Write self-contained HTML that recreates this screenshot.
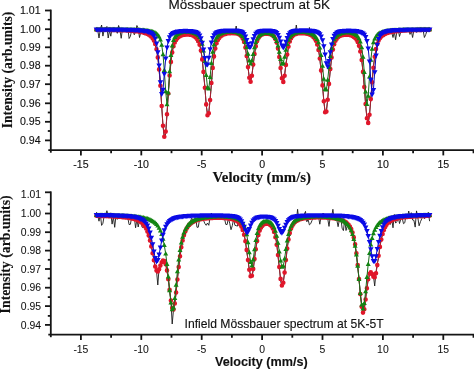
<!DOCTYPE html>
<html><head><meta charset="utf-8"><style>
html,body{margin:0;padding:0;background:#fff;overflow:hidden;}
svg{display:block;will-change:transform;}
text{font-family:"Liberation Sans",sans-serif;fill:#111;stroke:#111;stroke-width:0.12px;}
.tk{font-size:10.6px;}
.tkb{stroke-width:0.05px;font-size:10.4px;}
.ttl{font-size:13.5px;}
.ttl2{font-size:12.15px;}
.xl1{font-family:"Liberation Serif",serif;font-weight:bold;font-size:14.8px;}
.xl2{font-weight:bold;font-size:12.64px;}
.yl{font-family:"Liberation Serif",serif;font-weight:bold;font-size:13.64px;}
.yl2{font-family:"Liberation Serif",serif;font-weight:bold;font-size:13.8px;}
</style></head><body>
<svg width="474" height="369" viewBox="0 0 474 369">
<rect width="474" height="369" fill="#fff"/>
<line x1="50.8" y1="9.6" x2="50.8" y2="152.7" stroke="#151515" stroke-width="1.8"/><line x1="48.3" y1="150.2" x2="474" y2="150.2" stroke="#151515" stroke-width="1.8"/><line x1="45" y1="10.5" x2="50.8" y2="10.5" stroke="#151515" stroke-width="1.8"/><line x1="45" y1="29.2" x2="50.8" y2="29.2" stroke="#151515" stroke-width="1.8"/><line x1="45" y1="47.3" x2="50.8" y2="47.3" stroke="#151515" stroke-width="1.8"/><line x1="45" y1="65.7" x2="50.8" y2="65.7" stroke="#151515" stroke-width="1.8"/><line x1="45" y1="84.2" x2="50.8" y2="84.2" stroke="#151515" stroke-width="1.8"/><line x1="45" y1="103.3" x2="50.8" y2="103.3" stroke="#151515" stroke-width="1.8"/><line x1="45" y1="121.8" x2="50.8" y2="121.8" stroke="#151515" stroke-width="1.8"/><line x1="45" y1="140.4" x2="50.8" y2="140.4" stroke="#151515" stroke-width="1.8"/><line x1="47.8" y1="19.8" x2="50.8" y2="19.8" stroke="#151515" stroke-width="1.8"/><line x1="47.8" y1="38.4" x2="50.8" y2="38.4" stroke="#151515" stroke-width="1.8"/><line x1="47.8" y1="56.6" x2="50.8" y2="56.6" stroke="#151515" stroke-width="1.8"/><line x1="47.8" y1="75" x2="50.8" y2="75" stroke="#151515" stroke-width="1.8"/><line x1="47.8" y1="93.8" x2="50.8" y2="93.8" stroke="#151515" stroke-width="1.8"/><line x1="47.8" y1="112.5" x2="50.8" y2="112.5" stroke="#151515" stroke-width="1.8"/><line x1="47.8" y1="131" x2="50.8" y2="131" stroke="#151515" stroke-width="1.8"/><line x1="80.9" y1="150.2" x2="80.9" y2="155.4" stroke="#151515" stroke-width="1.8"/><line x1="141.3" y1="150.2" x2="141.3" y2="155.4" stroke="#151515" stroke-width="1.8"/><line x1="201.7" y1="150.2" x2="201.7" y2="155.4" stroke="#151515" stroke-width="1.8"/><line x1="262.1" y1="150.2" x2="262.1" y2="155.4" stroke="#151515" stroke-width="1.8"/><line x1="322.5" y1="150.2" x2="322.5" y2="155.4" stroke="#151515" stroke-width="1.8"/><line x1="382.9" y1="150.2" x2="382.9" y2="155.4" stroke="#151515" stroke-width="1.8"/><line x1="443.3" y1="150.2" x2="443.3" y2="155.4" stroke="#151515" stroke-width="1.8"/><line x1="111.1" y1="150.2" x2="111.1" y2="153.2" stroke="#151515" stroke-width="1.8"/><line x1="171.5" y1="150.2" x2="171.5" y2="153.2" stroke="#151515" stroke-width="1.8"/><line x1="231.9" y1="150.2" x2="231.9" y2="153.2" stroke="#151515" stroke-width="1.8"/><line x1="292.3" y1="150.2" x2="292.3" y2="153.2" stroke="#151515" stroke-width="1.8"/><line x1="352.7" y1="150.2" x2="352.7" y2="153.2" stroke="#151515" stroke-width="1.8"/><line x1="413.1" y1="150.2" x2="413.1" y2="153.2" stroke="#151515" stroke-width="1.8"/><line x1="473.5" y1="150.2" x2="473.5" y2="153.2" stroke="#151515" stroke-width="1.8"/><line x1="50.8" y1="191.4" x2="50.8" y2="337.2" stroke="#151515" stroke-width="1.8"/><line x1="48.3" y1="334.7" x2="474" y2="334.7" stroke="#151515" stroke-width="1.8"/><line x1="45" y1="192.3" x2="50.8" y2="192.3" stroke="#151515" stroke-width="1.8"/><line x1="45" y1="213.5" x2="50.8" y2="213.5" stroke="#151515" stroke-width="1.8"/><line x1="45" y1="232.2" x2="50.8" y2="232.2" stroke="#151515" stroke-width="1.8"/><line x1="45" y1="250.6" x2="50.8" y2="250.6" stroke="#151515" stroke-width="1.8"/><line x1="45" y1="269" x2="50.8" y2="269" stroke="#151515" stroke-width="1.8"/><line x1="45" y1="287.7" x2="50.8" y2="287.7" stroke="#151515" stroke-width="1.8"/><line x1="45" y1="306.1" x2="50.8" y2="306.1" stroke="#151515" stroke-width="1.8"/><line x1="45" y1="324.9" x2="50.8" y2="324.9" stroke="#151515" stroke-width="1.8"/><line x1="47.8" y1="204.4" x2="50.8" y2="204.4" stroke="#151515" stroke-width="1.8"/><line x1="47.8" y1="222.9" x2="50.8" y2="222.9" stroke="#151515" stroke-width="1.8"/><line x1="47.8" y1="241.4" x2="50.8" y2="241.4" stroke="#151515" stroke-width="1.8"/><line x1="47.8" y1="259.8" x2="50.8" y2="259.8" stroke="#151515" stroke-width="1.8"/><line x1="47.8" y1="278.4" x2="50.8" y2="278.4" stroke="#151515" stroke-width="1.8"/><line x1="47.8" y1="297.1" x2="50.8" y2="297.1" stroke="#151515" stroke-width="1.8"/><line x1="47.8" y1="315.9" x2="50.8" y2="315.9" stroke="#151515" stroke-width="1.8"/><line x1="80.9" y1="334.7" x2="80.9" y2="339.9" stroke="#151515" stroke-width="1.8"/><line x1="141.3" y1="334.7" x2="141.3" y2="339.9" stroke="#151515" stroke-width="1.8"/><line x1="201.7" y1="334.7" x2="201.7" y2="339.9" stroke="#151515" stroke-width="1.8"/><line x1="262.1" y1="334.7" x2="262.1" y2="339.9" stroke="#151515" stroke-width="1.8"/><line x1="322.5" y1="334.7" x2="322.5" y2="339.9" stroke="#151515" stroke-width="1.8"/><line x1="382.9" y1="334.7" x2="382.9" y2="339.9" stroke="#151515" stroke-width="1.8"/><line x1="443.3" y1="334.7" x2="443.3" y2="339.9" stroke="#151515" stroke-width="1.8"/><line x1="111.1" y1="334.7" x2="111.1" y2="337.7" stroke="#151515" stroke-width="1.8"/><line x1="171.5" y1="334.7" x2="171.5" y2="337.7" stroke="#151515" stroke-width="1.8"/><line x1="231.9" y1="334.7" x2="231.9" y2="337.7" stroke="#151515" stroke-width="1.8"/><line x1="292.3" y1="334.7" x2="292.3" y2="337.7" stroke="#151515" stroke-width="1.8"/><line x1="352.7" y1="334.7" x2="352.7" y2="337.7" stroke="#151515" stroke-width="1.8"/><line x1="413.1" y1="334.7" x2="413.1" y2="337.7" stroke="#151515" stroke-width="1.8"/><line x1="473.5" y1="334.7" x2="473.5" y2="337.7" stroke="#151515" stroke-width="1.8"/>
<polyline points="96.4,28.4 97.7,30 99,38 100.3,29.6 101.6,25 102.9,36.1 104.2,29.7 105.5,29.5 106.9,26.5 108.2,38 109.5,30.5 110.8,36.2 112.1,28.1 113.4,30.6 114.7,28.5 116,30 117.3,33.3 118.6,25.5 119.9,29.8 121.2,38.3 122.5,28.6 123.8,31.4 125.1,30.4 126.5,30.4 127.8,27.7 129.1,38.5 130.4,36.3 131.7,30 133,30.9 134.3,34.8 135.6,31.3 136.9,25.5 138.2,28.3 139.5,37.5 140.8,32.1 142.1,33 143.4,31.9 144.7,34.9 146.1,34.3 147.4,32.9 148.7,34.9 150,36.4 151.3,36.7 152.6,38.7 153.9,40.6 155.2,45.3 156.5,50.3 157.8,57.1 159.1,69.6 160.4,86.4 161.7,106 163,126.4 164.3,137.5 165.7,133.9 167,113.8 168.3,93.8 169.6,75.6 170.9,63.4 172.2,51.8 173.5,45.8 174.8,43 176.1,40.2 177.4,37.6 178.7,36.5 180,37 181.3,35.6 182.6,35.5 183.9,35.6 185.3,33.2 186.6,36.1 187.9,34 189.2,33.3 190.5,37 191.8,35.4 193.1,37.1 194.4,36.5 195.7,35.8 197,42.3 198.3,41 199.6,42.7 200.9,51.2 202.2,57.3 203.5,73.5 204.9,86.6 206.2,105.2 207.5,114.2 208.8,112.1 210.1,99.3 211.4,85.1 212.7,67.8 214,56.3 215.3,47.2 216.6,44.8 217.9,40.9 219.2,37.2 220.5,36.6 221.8,33.9 223.1,33.3 224.5,33.8 225.8,35.3 227.1,34.8 228.4,32.5 229.7,32.5 231,34.4 232.3,33.8 233.6,31 234.9,32.5 236.2,26 237.5,34.8 238.8,32.7 240.1,35 241.4,36.9 242.7,38.6 244.1,42.9 245.4,46.8 246.7,57.8 248,67.3 249.3,77.9 250.6,81.5 251.9,74.5 253.2,65.1 254.5,54.1 255.8,46.5 257.1,40.4 258.4,37.2 259.7,35.4 261,36 262.3,32.1 263.7,33.4 265,33.9 266.3,33.5 267.6,33.1 268.9,33.5 270.2,33 271.5,33.3 272.8,36.6 274.1,38.2 275.4,38.3 276.7,41.1 278,47 279.3,58.4 280.6,66.8 281.9,77.9 283.3,81.4 284.6,74.8 285.9,63.7 287.2,57.2 288.5,46.3 289.8,40.5 291.1,40.2 292.4,37.2 293.7,35.6 295,34.1 296.3,25 297.6,33.7 298.9,32.7 300.2,33.5 301.5,33.6 302.9,34 304.2,32 305.5,33.8 306.8,33.5 308.1,33.6 309.4,27.5 310.7,35.7 312,34.7 313.3,38.1 314.6,36.6 315.9,41.9 317.2,44.1 318.5,48.8 319.8,58.2 321.1,71.6 322.5,85.2 323.8,100.3 325.1,111.8 326.4,110.6 327.7,99.6 329,83.7 330.3,70.2 331.6,58.5 332.9,47.6 334.2,44.7 335.5,42.1 336.8,38.7 338.1,37.1 339.4,36 340.7,34.8 342.1,36.5 343.4,35.9 344.7,34.7 346,35.3 347.3,33.9 348.6,35.5 349.9,35.5 351.2,36.8 352.5,36.9 353.8,35.7 355.1,37.9 356.4,37.8 357.7,41.1 359,47.8 360.3,51.9 361.7,59.6 363,71.8 364.3,87.5 365.6,104.2 366.9,117.8 368.2,123.5 369.5,114.9 370.8,99.5 372.1,82.1 373.4,66.2 374.7,56.8 376,49.3 377.3,44.1 378.6,40 379.9,38 381.3,38.3 382.6,32.9 383.9,36.9 385.2,34.8 386.5,32.8 387.8,33.9 389.1,32.4 390.4,32.1 391.7,32.3 393,37.5 394.3,31.6 395.6,39.8 396.9,31.6 398.2,29.5 399.5,36.5 400.9,31.5 402.2,30.9 403.5,29.8 404.8,30.8 406.1,28.6 407.4,31.4 408.7,29.2 410,34.4 411.3,31 412.6,37.5 413.9,30.1 415.2,30.3 416.5,32.4 417.8,29.3 419.1,28.8 420.5,31.3 421.8,29.9 423.1,30.1 424.4,37.5 425.7,34.6 427,30.8 428.3,30.4 429.6,30.2" fill="none" stroke="#1a1a1a" stroke-width="0.9" stroke-linejoin="round"/><polyline points="96.4,29.7 97.7,29.7 99,29.7 100.3,29.7 101.6,29.7 102.9,29.7 104.2,29.8 105.5,29.8 106.9,29.8 108.2,29.8 109.5,29.8 110.8,29.9 112.1,29.9 113.4,29.9 114.7,30 116,30 117.3,30 118.6,30.1 119.9,30.1 121.2,30.2 122.5,30.2 123.8,30.3 125.1,30.3 126.5,30.4 127.8,30.5 129.1,30.6 130.4,30.6 131.7,30.7 133,30.9 134.3,31 135.6,31.1 136.9,31.3 138.2,31.5 139.5,31.7 140.8,31.9 142.1,32.2 143.4,32.6 144.7,32.9 146.1,33.4 147.4,34 148.7,34.7 150,35.6 151.3,36.8 152.6,38.3 153.9,40.6 155.2,44 156.5,49.2 157.8,57.4 159.1,69.4 160.4,85.8 161.7,106 163,125.7 164.3,136.7 165.7,131.6 167,114.2 168.3,93.5 169.6,75.5 170.9,61.9 172.2,52.4 173.5,46.3 174.8,42.4 176.1,39.9 177.4,38.2 178.7,37 180,36.2 181.3,35.5 182.6,35.1 183.9,34.8 185.3,34.6 186.6,34.5 187.9,34.5 189.2,34.6 190.5,34.8 191.8,35.1 193.1,35.6 194.4,36.4 195.7,37.4 197,38.9 198.3,41.2 199.6,44.8 200.9,50.6 202.2,59.4 203.5,71.9 204.9,87.8 206.2,104.4 207.5,115.2 208.8,113.3 210.1,100 211.4,83 212.7,67.9 214,56.4 215.3,48.5 216.6,43.3 217.9,40 219.2,38 220.5,36.5 221.8,35.6 223.1,34.8 224.5,34.3 225.8,33.9 227.1,33.5 228.4,33.3 229.7,33.2 231,33.1 232.3,33.1 233.6,33.1 234.9,33.3 236.2,33.5 237.5,33.8 238.8,34.3 240.1,35.1 241.4,36.3 242.7,38.4 244.1,41.9 245.4,47.6 246.7,56.1 248,67.1 249.3,77.8 250.6,81.8 251.9,75.8 253.2,64.6 254.5,54 255.8,46.2 257.1,41.1 258.4,38 259.7,36.2 261,35.1 262.3,34.4 263.7,34 265,33.8 266.3,33.7 267.6,33.7 268.9,33.9 270.2,34.2 271.5,34.7 272.8,35.5 274.1,36.8 275.4,39 276.7,42.6 278,48.5 279.3,57.1 280.6,68 281.9,78.3 283.3,81.9 284.6,75.8 285.9,64.9 287.2,54.5 288.5,46.6 289.8,41.4 291.1,38.2 292.4,36.3 293.7,35.1 295,34.3 296.3,33.9 297.6,33.5 298.9,33.3 300.2,33.2 301.5,33.1 302.9,33.2 304.2,33.2 305.5,33.4 306.8,33.7 308.1,34 309.4,34.4 310.7,35 312,35.8 313.3,36.9 314.6,38.4 315.9,40.7 317.2,44.4 318.5,50 319.8,58.5 321.1,70.4 322.5,85.4 323.8,101.3 325.1,112.3 326.4,111.6 327.7,99.8 329,83.9 330.3,69.1 331.6,57.6 332.9,49.6 334.2,44.2 335.5,40.8 336.8,38.7 338.1,37.3 339.4,36.3 340.7,35.7 342.1,35.2 343.4,34.9 344.7,34.7 346,34.6 347.3,34.7 348.6,34.8 349.9,35.1 351.2,35.5 352.5,36.1 353.8,36.9 355.1,38 356.4,39.6 357.7,42 359,45.8 360.3,51.5 361.7,60 363,71.9 364.3,87.1 365.6,104.1 366.9,118.3 368.2,122.9 369.5,114.8 370.8,99.1 372.1,82.2 373.4,67.8 374.7,56.8 376,49.1 377.3,43.9 378.6,40.5 379.9,38.2 381.3,36.6 382.6,35.5 383.9,34.6 385.2,33.9 386.5,33.3 387.8,32.9 389.1,32.5 390.4,32.2 391.7,31.9 393,31.6 394.3,31.4 395.6,31.3 396.9,31.1 398.2,31 399.5,30.8 400.9,30.7 402.2,30.6 403.5,30.5 404.8,30.5 406.1,30.4 407.4,30.3 408.7,30.3 410,30.2 411.3,30.2 412.6,30.1 413.9,30.1 415.2,30 416.5,30 417.8,30 419.1,29.9 420.5,29.9 421.8,29.9 423.1,29.8 424.4,29.8 425.7,29.8 427,29.8 428.3,29.8 429.6,29.7" fill="none" stroke="#a82030" stroke-width="1.0" stroke-linejoin="round"/><path d="M94.1,29.7a2.3,2.3 0 1,0 4.6,0a2.3,2.3 0 1,0 -4.6,0M95.4,29.7a2.3,2.3 0 1,0 4.6,0a2.3,2.3 0 1,0 -4.6,0M96.7,29.7a2.3,2.3 0 1,0 4.6,0a2.3,2.3 0 1,0 -4.6,0M98,29.7a2.3,2.3 0 1,0 4.6,0a2.3,2.3 0 1,0 -4.6,0M99.3,29.7a2.3,2.3 0 1,0 4.6,0a2.3,2.3 0 1,0 -4.6,0M100.6,29.7a2.3,2.3 0 1,0 4.6,0a2.3,2.3 0 1,0 -4.6,0M101.9,29.8a2.3,2.3 0 1,0 4.6,0a2.3,2.3 0 1,0 -4.6,0M103.2,29.8a2.3,2.3 0 1,0 4.6,0a2.3,2.3 0 1,0 -4.6,0M104.6,29.8a2.3,2.3 0 1,0 4.6,0a2.3,2.3 0 1,0 -4.6,0M105.9,29.8a2.3,2.3 0 1,0 4.6,0a2.3,2.3 0 1,0 -4.6,0M107.2,29.8a2.3,2.3 0 1,0 4.6,0a2.3,2.3 0 1,0 -4.6,0M108.5,29.9a2.3,2.3 0 1,0 4.6,0a2.3,2.3 0 1,0 -4.6,0M109.8,29.9a2.3,2.3 0 1,0 4.6,0a2.3,2.3 0 1,0 -4.6,0M111.1,29.9a2.3,2.3 0 1,0 4.6,0a2.3,2.3 0 1,0 -4.6,0M112.4,30a2.3,2.3 0 1,0 4.6,0a2.3,2.3 0 1,0 -4.6,0M113.7,30a2.3,2.3 0 1,0 4.6,0a2.3,2.3 0 1,0 -4.6,0M115,30a2.3,2.3 0 1,0 4.6,0a2.3,2.3 0 1,0 -4.6,0M116.3,30.1a2.3,2.3 0 1,0 4.6,0a2.3,2.3 0 1,0 -4.6,0M117.6,30.1a2.3,2.3 0 1,0 4.6,0a2.3,2.3 0 1,0 -4.6,0M118.9,30.2a2.3,2.3 0 1,0 4.6,0a2.3,2.3 0 1,0 -4.6,0M120.2,30.2a2.3,2.3 0 1,0 4.6,0a2.3,2.3 0 1,0 -4.6,0M121.5,30.3a2.3,2.3 0 1,0 4.6,0a2.3,2.3 0 1,0 -4.6,0M122.8,30.3a2.3,2.3 0 1,0 4.6,0a2.3,2.3 0 1,0 -4.6,0M124.2,30.4a2.3,2.3 0 1,0 4.6,0a2.3,2.3 0 1,0 -4.6,0M125.5,30.5a2.3,2.3 0 1,0 4.6,0a2.3,2.3 0 1,0 -4.6,0M126.8,30.6a2.3,2.3 0 1,0 4.6,0a2.3,2.3 0 1,0 -4.6,0M128.1,30.6a2.3,2.3 0 1,0 4.6,0a2.3,2.3 0 1,0 -4.6,0M129.4,30.7a2.3,2.3 0 1,0 4.6,0a2.3,2.3 0 1,0 -4.6,0M130.7,30.9a2.3,2.3 0 1,0 4.6,0a2.3,2.3 0 1,0 -4.6,0M132,31a2.3,2.3 0 1,0 4.6,0a2.3,2.3 0 1,0 -4.6,0M133.3,31.1a2.3,2.3 0 1,0 4.6,0a2.3,2.3 0 1,0 -4.6,0M134.6,31.3a2.3,2.3 0 1,0 4.6,0a2.3,2.3 0 1,0 -4.6,0M135.9,31.5a2.3,2.3 0 1,0 4.6,0a2.3,2.3 0 1,0 -4.6,0M137.2,31.7a2.3,2.3 0 1,0 4.6,0a2.3,2.3 0 1,0 -4.6,0M138.5,31.9a2.3,2.3 0 1,0 4.6,0a2.3,2.3 0 1,0 -4.6,0M139.8,32.2a2.3,2.3 0 1,0 4.6,0a2.3,2.3 0 1,0 -4.6,0M141.1,32.6a2.3,2.3 0 1,0 4.6,0a2.3,2.3 0 1,0 -4.6,0M142.4,32.9a2.3,2.3 0 1,0 4.6,0a2.3,2.3 0 1,0 -4.6,0M143.8,33.4a2.3,2.3 0 1,0 4.6,0a2.3,2.3 0 1,0 -4.6,0M145.1,34a2.3,2.3 0 1,0 4.6,0a2.3,2.3 0 1,0 -4.6,0M146.4,34.7a2.3,2.3 0 1,0 4.6,0a2.3,2.3 0 1,0 -4.6,0M147.7,35.6a2.3,2.3 0 1,0 4.6,0a2.3,2.3 0 1,0 -4.6,0M149,36.8a2.3,2.3 0 1,0 4.6,0a2.3,2.3 0 1,0 -4.6,0M150.3,38.3a2.3,2.3 0 1,0 4.6,0a2.3,2.3 0 1,0 -4.6,0M151.6,40.6a2.3,2.3 0 1,0 4.6,0a2.3,2.3 0 1,0 -4.6,0M152.9,44a2.3,2.3 0 1,0 4.6,0a2.3,2.3 0 1,0 -4.6,0M154.2,49.2a2.3,2.3 0 1,0 4.6,0a2.3,2.3 0 1,0 -4.6,0M155.5,57.4a2.3,2.3 0 1,0 4.6,0a2.3,2.3 0 1,0 -4.6,0M156.8,69.4a2.3,2.3 0 1,0 4.6,0a2.3,2.3 0 1,0 -4.6,0M158.1,85.8a2.3,2.3 0 1,0 4.6,0a2.3,2.3 0 1,0 -4.6,0M159.4,106a2.3,2.3 0 1,0 4.6,0a2.3,2.3 0 1,0 -4.6,0M160.7,125.7a2.3,2.3 0 1,0 4.6,0a2.3,2.3 0 1,0 -4.6,0M162,136.7a2.3,2.3 0 1,0 4.6,0a2.3,2.3 0 1,0 -4.6,0M163.4,131.6a2.3,2.3 0 1,0 4.6,0a2.3,2.3 0 1,0 -4.6,0M164.7,114.2a2.3,2.3 0 1,0 4.6,0a2.3,2.3 0 1,0 -4.6,0M166,93.5a2.3,2.3 0 1,0 4.6,0a2.3,2.3 0 1,0 -4.6,0M167.3,75.5a2.3,2.3 0 1,0 4.6,0a2.3,2.3 0 1,0 -4.6,0M168.6,61.9a2.3,2.3 0 1,0 4.6,0a2.3,2.3 0 1,0 -4.6,0M169.9,52.4a2.3,2.3 0 1,0 4.6,0a2.3,2.3 0 1,0 -4.6,0M171.2,46.3a2.3,2.3 0 1,0 4.6,0a2.3,2.3 0 1,0 -4.6,0M172.5,42.4a2.3,2.3 0 1,0 4.6,0a2.3,2.3 0 1,0 -4.6,0M173.8,39.9a2.3,2.3 0 1,0 4.6,0a2.3,2.3 0 1,0 -4.6,0M175.1,38.2a2.3,2.3 0 1,0 4.6,0a2.3,2.3 0 1,0 -4.6,0M176.4,37a2.3,2.3 0 1,0 4.6,0a2.3,2.3 0 1,0 -4.6,0M177.7,36.2a2.3,2.3 0 1,0 4.6,0a2.3,2.3 0 1,0 -4.6,0M179,35.5a2.3,2.3 0 1,0 4.6,0a2.3,2.3 0 1,0 -4.6,0M180.3,35.1a2.3,2.3 0 1,0 4.6,0a2.3,2.3 0 1,0 -4.6,0M181.6,34.8a2.3,2.3 0 1,0 4.6,0a2.3,2.3 0 1,0 -4.6,0M183,34.6a2.3,2.3 0 1,0 4.6,0a2.3,2.3 0 1,0 -4.6,0M184.3,34.5a2.3,2.3 0 1,0 4.6,0a2.3,2.3 0 1,0 -4.6,0M185.6,34.5a2.3,2.3 0 1,0 4.6,0a2.3,2.3 0 1,0 -4.6,0M186.9,34.6a2.3,2.3 0 1,0 4.6,0a2.3,2.3 0 1,0 -4.6,0M188.2,34.8a2.3,2.3 0 1,0 4.6,0a2.3,2.3 0 1,0 -4.6,0M189.5,35.1a2.3,2.3 0 1,0 4.6,0a2.3,2.3 0 1,0 -4.6,0M190.8,35.6a2.3,2.3 0 1,0 4.6,0a2.3,2.3 0 1,0 -4.6,0M192.1,36.4a2.3,2.3 0 1,0 4.6,0a2.3,2.3 0 1,0 -4.6,0M193.4,37.4a2.3,2.3 0 1,0 4.6,0a2.3,2.3 0 1,0 -4.6,0M194.7,38.9a2.3,2.3 0 1,0 4.6,0a2.3,2.3 0 1,0 -4.6,0M196,41.2a2.3,2.3 0 1,0 4.6,0a2.3,2.3 0 1,0 -4.6,0M197.3,44.8a2.3,2.3 0 1,0 4.6,0a2.3,2.3 0 1,0 -4.6,0M198.6,50.6a2.3,2.3 0 1,0 4.6,0a2.3,2.3 0 1,0 -4.6,0M199.9,59.4a2.3,2.3 0 1,0 4.6,0a2.3,2.3 0 1,0 -4.6,0M201.2,71.9a2.3,2.3 0 1,0 4.6,0a2.3,2.3 0 1,0 -4.6,0M202.6,87.8a2.3,2.3 0 1,0 4.6,0a2.3,2.3 0 1,0 -4.6,0M203.9,104.4a2.3,2.3 0 1,0 4.6,0a2.3,2.3 0 1,0 -4.6,0M205.2,115.2a2.3,2.3 0 1,0 4.6,0a2.3,2.3 0 1,0 -4.6,0M206.5,113.3a2.3,2.3 0 1,0 4.6,0a2.3,2.3 0 1,0 -4.6,0M207.8,100a2.3,2.3 0 1,0 4.6,0a2.3,2.3 0 1,0 -4.6,0M209.1,83a2.3,2.3 0 1,0 4.6,0a2.3,2.3 0 1,0 -4.6,0M210.4,67.9a2.3,2.3 0 1,0 4.6,0a2.3,2.3 0 1,0 -4.6,0M211.7,56.4a2.3,2.3 0 1,0 4.6,0a2.3,2.3 0 1,0 -4.6,0M213,48.5a2.3,2.3 0 1,0 4.6,0a2.3,2.3 0 1,0 -4.6,0M214.3,43.3a2.3,2.3 0 1,0 4.6,0a2.3,2.3 0 1,0 -4.6,0M215.6,40a2.3,2.3 0 1,0 4.6,0a2.3,2.3 0 1,0 -4.6,0M216.9,38a2.3,2.3 0 1,0 4.6,0a2.3,2.3 0 1,0 -4.6,0M218.2,36.5a2.3,2.3 0 1,0 4.6,0a2.3,2.3 0 1,0 -4.6,0M219.5,35.6a2.3,2.3 0 1,0 4.6,0a2.3,2.3 0 1,0 -4.6,0M220.8,34.8a2.3,2.3 0 1,0 4.6,0a2.3,2.3 0 1,0 -4.6,0M222.2,34.3a2.3,2.3 0 1,0 4.6,0a2.3,2.3 0 1,0 -4.6,0M223.5,33.9a2.3,2.3 0 1,0 4.6,0a2.3,2.3 0 1,0 -4.6,0M224.8,33.5a2.3,2.3 0 1,0 4.6,0a2.3,2.3 0 1,0 -4.6,0M226.1,33.3a2.3,2.3 0 1,0 4.6,0a2.3,2.3 0 1,0 -4.6,0M227.4,33.2a2.3,2.3 0 1,0 4.6,0a2.3,2.3 0 1,0 -4.6,0M228.7,33.1a2.3,2.3 0 1,0 4.6,0a2.3,2.3 0 1,0 -4.6,0M230,33.1a2.3,2.3 0 1,0 4.6,0a2.3,2.3 0 1,0 -4.6,0M231.3,33.1a2.3,2.3 0 1,0 4.6,0a2.3,2.3 0 1,0 -4.6,0M232.6,33.3a2.3,2.3 0 1,0 4.6,0a2.3,2.3 0 1,0 -4.6,0M233.9,33.5a2.3,2.3 0 1,0 4.6,0a2.3,2.3 0 1,0 -4.6,0M235.2,33.8a2.3,2.3 0 1,0 4.6,0a2.3,2.3 0 1,0 -4.6,0M236.5,34.3a2.3,2.3 0 1,0 4.6,0a2.3,2.3 0 1,0 -4.6,0M237.8,35.1a2.3,2.3 0 1,0 4.6,0a2.3,2.3 0 1,0 -4.6,0M239.1,36.3a2.3,2.3 0 1,0 4.6,0a2.3,2.3 0 1,0 -4.6,0M240.4,38.4a2.3,2.3 0 1,0 4.6,0a2.3,2.3 0 1,0 -4.6,0M241.8,41.9a2.3,2.3 0 1,0 4.6,0a2.3,2.3 0 1,0 -4.6,0M243.1,47.6a2.3,2.3 0 1,0 4.6,0a2.3,2.3 0 1,0 -4.6,0M244.4,56.1a2.3,2.3 0 1,0 4.6,0a2.3,2.3 0 1,0 -4.6,0M245.7,67.1a2.3,2.3 0 1,0 4.6,0a2.3,2.3 0 1,0 -4.6,0M247,77.8a2.3,2.3 0 1,0 4.6,0a2.3,2.3 0 1,0 -4.6,0M248.3,81.8a2.3,2.3 0 1,0 4.6,0a2.3,2.3 0 1,0 -4.6,0M249.6,75.8a2.3,2.3 0 1,0 4.6,0a2.3,2.3 0 1,0 -4.6,0M250.9,64.6a2.3,2.3 0 1,0 4.6,0a2.3,2.3 0 1,0 -4.6,0M252.2,54a2.3,2.3 0 1,0 4.6,0a2.3,2.3 0 1,0 -4.6,0M253.5,46.2a2.3,2.3 0 1,0 4.6,0a2.3,2.3 0 1,0 -4.6,0M254.8,41.1a2.3,2.3 0 1,0 4.6,0a2.3,2.3 0 1,0 -4.6,0M256.1,38a2.3,2.3 0 1,0 4.6,0a2.3,2.3 0 1,0 -4.6,0M257.4,36.2a2.3,2.3 0 1,0 4.6,0a2.3,2.3 0 1,0 -4.6,0M258.7,35.1a2.3,2.3 0 1,0 4.6,0a2.3,2.3 0 1,0 -4.6,0M260,34.4a2.3,2.3 0 1,0 4.6,0a2.3,2.3 0 1,0 -4.6,0M261.4,34a2.3,2.3 0 1,0 4.6,0a2.3,2.3 0 1,0 -4.6,0M262.7,33.8a2.3,2.3 0 1,0 4.6,0a2.3,2.3 0 1,0 -4.6,0M264,33.7a2.3,2.3 0 1,0 4.6,0a2.3,2.3 0 1,0 -4.6,0M265.3,33.7a2.3,2.3 0 1,0 4.6,0a2.3,2.3 0 1,0 -4.6,0M266.6,33.9a2.3,2.3 0 1,0 4.6,0a2.3,2.3 0 1,0 -4.6,0M267.9,34.2a2.3,2.3 0 1,0 4.6,0a2.3,2.3 0 1,0 -4.6,0M269.2,34.7a2.3,2.3 0 1,0 4.6,0a2.3,2.3 0 1,0 -4.6,0M270.5,35.5a2.3,2.3 0 1,0 4.6,0a2.3,2.3 0 1,0 -4.6,0M271.8,36.8a2.3,2.3 0 1,0 4.6,0a2.3,2.3 0 1,0 -4.6,0M273.1,39a2.3,2.3 0 1,0 4.6,0a2.3,2.3 0 1,0 -4.6,0M274.4,42.6a2.3,2.3 0 1,0 4.6,0a2.3,2.3 0 1,0 -4.6,0M275.7,48.5a2.3,2.3 0 1,0 4.6,0a2.3,2.3 0 1,0 -4.6,0M277,57.1a2.3,2.3 0 1,0 4.6,0a2.3,2.3 0 1,0 -4.6,0M278.3,68a2.3,2.3 0 1,0 4.6,0a2.3,2.3 0 1,0 -4.6,0M279.6,78.3a2.3,2.3 0 1,0 4.6,0a2.3,2.3 0 1,0 -4.6,0M281,81.9a2.3,2.3 0 1,0 4.6,0a2.3,2.3 0 1,0 -4.6,0M282.3,75.8a2.3,2.3 0 1,0 4.6,0a2.3,2.3 0 1,0 -4.6,0M283.6,64.9a2.3,2.3 0 1,0 4.6,0a2.3,2.3 0 1,0 -4.6,0M284.9,54.5a2.3,2.3 0 1,0 4.6,0a2.3,2.3 0 1,0 -4.6,0M286.2,46.6a2.3,2.3 0 1,0 4.6,0a2.3,2.3 0 1,0 -4.6,0M287.5,41.4a2.3,2.3 0 1,0 4.6,0a2.3,2.3 0 1,0 -4.6,0M288.8,38.2a2.3,2.3 0 1,0 4.6,0a2.3,2.3 0 1,0 -4.6,0M290.1,36.3a2.3,2.3 0 1,0 4.6,0a2.3,2.3 0 1,0 -4.6,0M291.4,35.1a2.3,2.3 0 1,0 4.6,0a2.3,2.3 0 1,0 -4.6,0M292.7,34.3a2.3,2.3 0 1,0 4.6,0a2.3,2.3 0 1,0 -4.6,0M294,33.9a2.3,2.3 0 1,0 4.6,0a2.3,2.3 0 1,0 -4.6,0M295.3,33.5a2.3,2.3 0 1,0 4.6,0a2.3,2.3 0 1,0 -4.6,0M296.6,33.3a2.3,2.3 0 1,0 4.6,0a2.3,2.3 0 1,0 -4.6,0M297.9,33.2a2.3,2.3 0 1,0 4.6,0a2.3,2.3 0 1,0 -4.6,0M299.2,33.1a2.3,2.3 0 1,0 4.6,0a2.3,2.3 0 1,0 -4.6,0M300.6,33.2a2.3,2.3 0 1,0 4.6,0a2.3,2.3 0 1,0 -4.6,0M301.9,33.2a2.3,2.3 0 1,0 4.6,0a2.3,2.3 0 1,0 -4.6,0M303.2,33.4a2.3,2.3 0 1,0 4.6,0a2.3,2.3 0 1,0 -4.6,0M304.5,33.7a2.3,2.3 0 1,0 4.6,0a2.3,2.3 0 1,0 -4.6,0M305.8,34a2.3,2.3 0 1,0 4.6,0a2.3,2.3 0 1,0 -4.6,0M307.1,34.4a2.3,2.3 0 1,0 4.6,0a2.3,2.3 0 1,0 -4.6,0M308.4,35a2.3,2.3 0 1,0 4.6,0a2.3,2.3 0 1,0 -4.6,0M309.7,35.8a2.3,2.3 0 1,0 4.6,0a2.3,2.3 0 1,0 -4.6,0M311,36.9a2.3,2.3 0 1,0 4.6,0a2.3,2.3 0 1,0 -4.6,0M312.3,38.4a2.3,2.3 0 1,0 4.6,0a2.3,2.3 0 1,0 -4.6,0M313.6,40.7a2.3,2.3 0 1,0 4.6,0a2.3,2.3 0 1,0 -4.6,0M314.9,44.4a2.3,2.3 0 1,0 4.6,0a2.3,2.3 0 1,0 -4.6,0M316.2,50a2.3,2.3 0 1,0 4.6,0a2.3,2.3 0 1,0 -4.6,0M317.5,58.5a2.3,2.3 0 1,0 4.6,0a2.3,2.3 0 1,0 -4.6,0M318.8,70.4a2.3,2.3 0 1,0 4.6,0a2.3,2.3 0 1,0 -4.6,0M320.2,85.4a2.3,2.3 0 1,0 4.6,0a2.3,2.3 0 1,0 -4.6,0M321.5,101.3a2.3,2.3 0 1,0 4.6,0a2.3,2.3 0 1,0 -4.6,0M322.8,112.3a2.3,2.3 0 1,0 4.6,0a2.3,2.3 0 1,0 -4.6,0M324.1,111.6a2.3,2.3 0 1,0 4.6,0a2.3,2.3 0 1,0 -4.6,0M325.4,99.8a2.3,2.3 0 1,0 4.6,0a2.3,2.3 0 1,0 -4.6,0M326.7,83.9a2.3,2.3 0 1,0 4.6,0a2.3,2.3 0 1,0 -4.6,0M328,69.1a2.3,2.3 0 1,0 4.6,0a2.3,2.3 0 1,0 -4.6,0M329.3,57.6a2.3,2.3 0 1,0 4.6,0a2.3,2.3 0 1,0 -4.6,0M330.6,49.6a2.3,2.3 0 1,0 4.6,0a2.3,2.3 0 1,0 -4.6,0M331.9,44.2a2.3,2.3 0 1,0 4.6,0a2.3,2.3 0 1,0 -4.6,0M333.2,40.8a2.3,2.3 0 1,0 4.6,0a2.3,2.3 0 1,0 -4.6,0M334.5,38.7a2.3,2.3 0 1,0 4.6,0a2.3,2.3 0 1,0 -4.6,0M335.8,37.3a2.3,2.3 0 1,0 4.6,0a2.3,2.3 0 1,0 -4.6,0M337.1,36.3a2.3,2.3 0 1,0 4.6,0a2.3,2.3 0 1,0 -4.6,0M338.4,35.7a2.3,2.3 0 1,0 4.6,0a2.3,2.3 0 1,0 -4.6,0M339.8,35.2a2.3,2.3 0 1,0 4.6,0a2.3,2.3 0 1,0 -4.6,0M341.1,34.9a2.3,2.3 0 1,0 4.6,0a2.3,2.3 0 1,0 -4.6,0M342.4,34.7a2.3,2.3 0 1,0 4.6,0a2.3,2.3 0 1,0 -4.6,0M343.7,34.6a2.3,2.3 0 1,0 4.6,0a2.3,2.3 0 1,0 -4.6,0M345,34.7a2.3,2.3 0 1,0 4.6,0a2.3,2.3 0 1,0 -4.6,0M346.3,34.8a2.3,2.3 0 1,0 4.6,0a2.3,2.3 0 1,0 -4.6,0M347.6,35.1a2.3,2.3 0 1,0 4.6,0a2.3,2.3 0 1,0 -4.6,0M348.9,35.5a2.3,2.3 0 1,0 4.6,0a2.3,2.3 0 1,0 -4.6,0M350.2,36.1a2.3,2.3 0 1,0 4.6,0a2.3,2.3 0 1,0 -4.6,0M351.5,36.9a2.3,2.3 0 1,0 4.6,0a2.3,2.3 0 1,0 -4.6,0M352.8,38a2.3,2.3 0 1,0 4.6,0a2.3,2.3 0 1,0 -4.6,0M354.1,39.6a2.3,2.3 0 1,0 4.6,0a2.3,2.3 0 1,0 -4.6,0M355.4,42a2.3,2.3 0 1,0 4.6,0a2.3,2.3 0 1,0 -4.6,0M356.7,45.8a2.3,2.3 0 1,0 4.6,0a2.3,2.3 0 1,0 -4.6,0M358,51.5a2.3,2.3 0 1,0 4.6,0a2.3,2.3 0 1,0 -4.6,0M359.4,60a2.3,2.3 0 1,0 4.6,0a2.3,2.3 0 1,0 -4.6,0M360.7,71.9a2.3,2.3 0 1,0 4.6,0a2.3,2.3 0 1,0 -4.6,0M362,87.1a2.3,2.3 0 1,0 4.6,0a2.3,2.3 0 1,0 -4.6,0M363.3,104.1a2.3,2.3 0 1,0 4.6,0a2.3,2.3 0 1,0 -4.6,0M364.6,118.3a2.3,2.3 0 1,0 4.6,0a2.3,2.3 0 1,0 -4.6,0M365.9,122.9a2.3,2.3 0 1,0 4.6,0a2.3,2.3 0 1,0 -4.6,0M367.2,114.8a2.3,2.3 0 1,0 4.6,0a2.3,2.3 0 1,0 -4.6,0M368.5,99.1a2.3,2.3 0 1,0 4.6,0a2.3,2.3 0 1,0 -4.6,0M369.8,82.2a2.3,2.3 0 1,0 4.6,0a2.3,2.3 0 1,0 -4.6,0M371.1,67.8a2.3,2.3 0 1,0 4.6,0a2.3,2.3 0 1,0 -4.6,0M372.4,56.8a2.3,2.3 0 1,0 4.6,0a2.3,2.3 0 1,0 -4.6,0M373.7,49.1a2.3,2.3 0 1,0 4.6,0a2.3,2.3 0 1,0 -4.6,0M375,43.9a2.3,2.3 0 1,0 4.6,0a2.3,2.3 0 1,0 -4.6,0M376.3,40.5a2.3,2.3 0 1,0 4.6,0a2.3,2.3 0 1,0 -4.6,0M377.6,38.2a2.3,2.3 0 1,0 4.6,0a2.3,2.3 0 1,0 -4.6,0M379,36.6a2.3,2.3 0 1,0 4.6,0a2.3,2.3 0 1,0 -4.6,0M380.3,35.5a2.3,2.3 0 1,0 4.6,0a2.3,2.3 0 1,0 -4.6,0M381.6,34.6a2.3,2.3 0 1,0 4.6,0a2.3,2.3 0 1,0 -4.6,0M382.9,33.9a2.3,2.3 0 1,0 4.6,0a2.3,2.3 0 1,0 -4.6,0M384.2,33.3a2.3,2.3 0 1,0 4.6,0a2.3,2.3 0 1,0 -4.6,0M385.5,32.9a2.3,2.3 0 1,0 4.6,0a2.3,2.3 0 1,0 -4.6,0M386.8,32.5a2.3,2.3 0 1,0 4.6,0a2.3,2.3 0 1,0 -4.6,0M388.1,32.2a2.3,2.3 0 1,0 4.6,0a2.3,2.3 0 1,0 -4.6,0M389.4,31.9a2.3,2.3 0 1,0 4.6,0a2.3,2.3 0 1,0 -4.6,0M390.7,31.6a2.3,2.3 0 1,0 4.6,0a2.3,2.3 0 1,0 -4.6,0M392,31.4a2.3,2.3 0 1,0 4.6,0a2.3,2.3 0 1,0 -4.6,0M393.3,31.3a2.3,2.3 0 1,0 4.6,0a2.3,2.3 0 1,0 -4.6,0M394.6,31.1a2.3,2.3 0 1,0 4.6,0a2.3,2.3 0 1,0 -4.6,0M395.9,31a2.3,2.3 0 1,0 4.6,0a2.3,2.3 0 1,0 -4.6,0M397.2,30.8a2.3,2.3 0 1,0 4.6,0a2.3,2.3 0 1,0 -4.6,0M398.6,30.7a2.3,2.3 0 1,0 4.6,0a2.3,2.3 0 1,0 -4.6,0M399.9,30.6a2.3,2.3 0 1,0 4.6,0a2.3,2.3 0 1,0 -4.6,0M401.2,30.5a2.3,2.3 0 1,0 4.6,0a2.3,2.3 0 1,0 -4.6,0M402.5,30.5a2.3,2.3 0 1,0 4.6,0a2.3,2.3 0 1,0 -4.6,0M403.8,30.4a2.3,2.3 0 1,0 4.6,0a2.3,2.3 0 1,0 -4.6,0M405.1,30.3a2.3,2.3 0 1,0 4.6,0a2.3,2.3 0 1,0 -4.6,0M406.4,30.3a2.3,2.3 0 1,0 4.6,0a2.3,2.3 0 1,0 -4.6,0M407.7,30.2a2.3,2.3 0 1,0 4.6,0a2.3,2.3 0 1,0 -4.6,0M409,30.2a2.3,2.3 0 1,0 4.6,0a2.3,2.3 0 1,0 -4.6,0M410.3,30.1a2.3,2.3 0 1,0 4.6,0a2.3,2.3 0 1,0 -4.6,0M411.6,30.1a2.3,2.3 0 1,0 4.6,0a2.3,2.3 0 1,0 -4.6,0M412.9,30a2.3,2.3 0 1,0 4.6,0a2.3,2.3 0 1,0 -4.6,0M414.2,30a2.3,2.3 0 1,0 4.6,0a2.3,2.3 0 1,0 -4.6,0M415.5,30a2.3,2.3 0 1,0 4.6,0a2.3,2.3 0 1,0 -4.6,0M416.8,29.9a2.3,2.3 0 1,0 4.6,0a2.3,2.3 0 1,0 -4.6,0M418.2,29.9a2.3,2.3 0 1,0 4.6,0a2.3,2.3 0 1,0 -4.6,0M419.5,29.9a2.3,2.3 0 1,0 4.6,0a2.3,2.3 0 1,0 -4.6,0M420.8,29.8a2.3,2.3 0 1,0 4.6,0a2.3,2.3 0 1,0 -4.6,0M422.1,29.8a2.3,2.3 0 1,0 4.6,0a2.3,2.3 0 1,0 -4.6,0M423.4,29.8a2.3,2.3 0 1,0 4.6,0a2.3,2.3 0 1,0 -4.6,0M424.7,29.8a2.3,2.3 0 1,0 4.6,0a2.3,2.3 0 1,0 -4.6,0M426,29.8a2.3,2.3 0 1,0 4.6,0a2.3,2.3 0 1,0 -4.6,0M427.3,29.7a2.3,2.3 0 1,0 4.6,0a2.3,2.3 0 1,0 -4.6,0" fill="#e0162a"/><polyline points="96.4,29.4 97.7,29.4 99,29.4 100.3,29.4 101.6,29.4 102.9,29.4 104.2,29.4 105.5,29.5 106.9,29.5 108.2,29.5 109.5,29.5 110.8,29.5 112.1,29.5 113.4,29.5 114.7,29.5 116,29.5 117.3,29.5 118.6,29.6 119.9,29.6 121.2,29.6 122.5,29.6 123.8,29.6 125.1,29.7 126.5,29.7 127.8,29.7 129.1,29.7 130.4,29.8 131.7,29.8 133,29.8 134.3,29.9 135.6,29.9 136.9,30 138.2,30 139.5,30.1 140.8,30.2 142.1,30.2 143.4,30.3 144.7,30.5 146.1,30.6 147.4,30.8 148.7,31 150,31.2 151.3,31.5 152.6,31.9 153.9,32.3 155.2,33 156.5,33.8 157.8,35.1 159.1,36.9 160.4,39.8 161.7,45 163,54.4 164.3,70.3 165.7,91.5 167,104.5 168.3,92.9 169.6,71.6 170.9,55.4 172.2,45.7 173.5,40.3 174.8,37.3 176.1,35.5 177.4,34.4 178.7,33.6 180,33 181.3,32.6 182.6,32.3 183.9,32.1 185.3,32 186.6,32 187.9,32 189.2,32.1 190.5,32.2 191.8,32.4 193.1,32.7 194.4,33.1 195.7,33.7 197,34.4 198.3,35.5 199.6,37.2 200.9,39.8 202.2,44 203.5,50.8 204.9,61.3 206.2,75.1 207.5,87.6 208.8,88.7 210.1,77.2 211.4,63.1 212.7,52.1 214,44.8 215.3,40.2 216.6,37.5 217.9,35.7 219.2,34.6 220.5,33.8 221.8,33.2 223.1,32.7 224.5,32.4 225.8,32.2 227.1,32 228.4,31.9 229.7,31.9 231,31.9 232.3,31.9 233.6,32 234.9,32.2 236.2,32.4 237.5,32.7 238.8,33.2 240.1,33.8 241.4,34.8 242.7,36.3 244.1,38.6 245.4,42.2 246.7,47.3 248,53.9 249.3,60.6 250.6,63.8 251.9,60.8 253.2,54.1 254.5,47.5 255.8,42.4 257.1,38.9 258.4,36.6 259.7,35.2 261,34.3 262.3,33.7 263.7,33.3 265,33.1 266.3,33 267.6,33.1 268.9,33.2 270.2,33.6 271.5,34.1 272.8,34.9 274.1,36.1 275.4,38.1 276.7,41.2 278,45.8 279.3,52.1 280.6,59.2 281.9,64.1 283.3,63.1 284.6,57 285.9,49.9 287.2,44.1 288.5,40 289.8,37.3 291.1,35.5 292.4,34.3 293.7,33.6 295,33 296.3,32.7 297.6,32.4 298.9,32.2 300.2,32.1 301.5,32.1 302.9,32.1 304.2,32.1 305.5,32.3 306.8,32.4 308.1,32.7 309.4,33 310.7,33.4 312,33.9 313.3,34.7 314.6,35.7 315.9,37.1 317.2,39.3 318.5,42.6 319.8,47.7 321.1,55.4 322.5,66.1 323.8,79 325.1,89.4 326.4,89.9 327.7,80.1 329,67.2 330.3,56.2 331.6,48.3 332.9,43 334.2,39.6 335.5,37.4 336.8,35.9 338.1,34.9 339.4,34.1 340.7,33.6 342.1,33.2 343.4,32.9 344.7,32.7 346,32.6 347.3,32.6 348.6,32.6 349.9,32.7 351.2,32.9 352.5,33.2 353.8,33.7 355.1,34.3 356.4,35.2 357.7,36.5 359,38.5 360.3,41.8 361.7,47.4 363,57.1 364.3,72.3 365.6,91.7 366.9,104.1 368.2,96 369.5,76.7 370.8,60 372.1,49.1 373.4,42.5 374.7,38.7 376,36.4 377.3,34.9 378.6,33.8 379.9,33 381.3,32.4 382.6,32 383.9,31.6 385.2,31.3 386.5,31.1 387.8,30.9 389.1,30.7 390.4,30.6 391.7,30.5 393,30.4 394.3,30.3 395.6,30.2 396.9,30.1 398.2,30.1 399.5,30 400.9,29.9 402.2,29.9 403.5,29.9 404.8,29.8 406.1,29.8 407.4,29.8 408.7,29.7 410,29.7 411.3,29.7 412.6,29.7 413.9,29.6 415.2,29.6 416.5,29.6 417.8,29.6 419.1,29.6 420.5,29.6 421.8,29.5 423.1,29.5 424.4,29.5 425.7,29.5 427,29.5 428.3,29.5 429.6,29.5" fill="none" stroke="#1a6a1a" stroke-width="1.0" stroke-linejoin="round"/><path d="M96.4,26.7l2.5,4.5h-5zM97.7,26.7l2.5,4.5h-5zM99,26.7l2.5,4.5h-5zM100.3,26.7l2.5,4.5h-5zM101.6,26.7l2.5,4.5h-5zM102.9,26.7l2.5,4.5h-5zM104.2,26.7l2.5,4.5h-5zM105.5,26.7l2.5,4.5h-5zM106.9,26.7l2.5,4.5h-5zM108.2,26.7l2.5,4.5h-5zM109.5,26.7l2.5,4.5h-5zM110.8,26.7l2.5,4.5h-5zM112.1,26.7l2.5,4.5h-5zM113.4,26.8l2.5,4.5h-5zM114.7,26.8l2.5,4.5h-5zM116,26.8l2.5,4.5h-5zM117.3,26.8l2.5,4.5h-5zM118.6,26.8l2.5,4.5h-5zM119.9,26.8l2.5,4.5h-5zM121.2,26.8l2.5,4.5h-5zM122.5,26.9l2.5,4.5h-5zM123.8,26.9l2.5,4.5h-5zM125.1,26.9l2.5,4.5h-5zM126.5,26.9l2.5,4.5h-5zM127.8,27l2.5,4.5h-5zM129.1,27l2.5,4.5h-5zM130.4,27l2.5,4.5h-5zM131.7,27l2.5,4.5h-5zM133,27.1l2.5,4.5h-5zM134.3,27.1l2.5,4.5h-5zM135.6,27.2l2.5,4.5h-5zM136.9,27.2l2.5,4.5h-5zM138.2,27.3l2.5,4.5h-5zM139.5,27.3l2.5,4.5h-5zM140.8,27.4l2.5,4.5h-5zM142.1,27.5l2.5,4.5h-5zM143.4,27.6l2.5,4.5h-5zM144.7,27.7l2.5,4.5h-5zM146.1,27.8l2.5,4.5h-5zM147.4,28l2.5,4.5h-5zM148.7,28.2l2.5,4.5h-5zM150,28.4l2.5,4.5h-5zM151.3,28.7l2.5,4.5h-5zM152.6,29.1l2.5,4.5h-5zM153.9,29.6l2.5,4.5h-5zM155.2,30.2l2.5,4.5h-5zM156.5,31.1l2.5,4.5h-5zM157.8,32.3l2.5,4.5h-5zM159.1,34.1l2.5,4.5h-5zM160.4,37.1l2.5,4.5h-5zM161.7,42.3l2.5,4.5h-5zM163,51.7l2.5,4.5h-5zM164.3,67.5l2.5,4.5h-5zM165.7,88.8l2.5,4.5h-5zM167,101.7l2.5,4.5h-5zM168.3,90.1l2.5,4.5h-5zM169.6,68.8l2.5,4.5h-5zM170.9,52.6l2.5,4.5h-5zM172.2,42.9l2.5,4.5h-5zM173.5,37.6l2.5,4.5h-5zM174.8,34.6l2.5,4.5h-5zM176.1,32.8l2.5,4.5h-5zM177.4,31.6l2.5,4.5h-5zM178.7,30.8l2.5,4.5h-5zM180,30.2l2.5,4.5h-5zM181.3,29.8l2.5,4.5h-5zM182.6,29.6l2.5,4.5h-5zM183.9,29.4l2.5,4.5h-5zM185.3,29.3l2.5,4.5h-5zM186.6,29.2l2.5,4.5h-5zM187.9,29.2l2.5,4.5h-5zM189.2,29.3l2.5,4.5h-5zM190.5,29.4l2.5,4.5h-5zM191.8,29.7l2.5,4.5h-5zM193.1,30l2.5,4.5h-5zM194.4,30.4l2.5,4.5h-5zM195.7,30.9l2.5,4.5h-5zM197,31.7l2.5,4.5h-5zM198.3,32.8l2.5,4.5h-5zM199.6,34.4l2.5,4.5h-5zM200.9,37l2.5,4.5h-5zM202.2,41.2l2.5,4.5h-5zM203.5,48.1l2.5,4.5h-5zM204.9,58.5l2.5,4.5h-5zM206.2,72.4l2.5,4.5h-5zM207.5,84.9l2.5,4.5h-5zM208.8,86l2.5,4.5h-5zM210.1,74.5l2.5,4.5h-5zM211.4,60.4l2.5,4.5h-5zM212.7,49.3l2.5,4.5h-5zM214,42l2.5,4.5h-5zM215.3,37.5l2.5,4.5h-5zM216.6,34.7l2.5,4.5h-5zM217.9,33l2.5,4.5h-5zM219.2,31.8l2.5,4.5h-5zM220.5,31l2.5,4.5h-5zM221.8,30.4l2.5,4.5h-5zM223.1,30l2.5,4.5h-5zM224.5,29.7l2.5,4.5h-5zM225.8,29.4l2.5,4.5h-5zM227.1,29.3l2.5,4.5h-5zM228.4,29.2l2.5,4.5h-5zM229.7,29.1l2.5,4.5h-5zM231,29.1l2.5,4.5h-5zM232.3,29.1l2.5,4.5h-5zM233.6,29.2l2.5,4.5h-5zM234.9,29.4l2.5,4.5h-5zM236.2,29.6l2.5,4.5h-5zM237.5,30l2.5,4.5h-5zM238.8,30.4l2.5,4.5h-5zM240.1,31.1l2.5,4.5h-5zM241.4,32.1l2.5,4.5h-5zM242.7,33.6l2.5,4.5h-5zM244.1,35.9l2.5,4.5h-5zM245.4,39.4l2.5,4.5h-5zM246.7,44.5l2.5,4.5h-5zM248,51.2l2.5,4.5h-5zM249.3,57.9l2.5,4.5h-5zM250.6,61l2.5,4.5h-5zM251.9,58l2.5,4.5h-5zM253.2,51.4l2.5,4.5h-5zM254.5,44.8l2.5,4.5h-5zM255.8,39.7l2.5,4.5h-5zM257.1,36.2l2.5,4.5h-5zM258.4,33.9l2.5,4.5h-5zM259.7,32.4l2.5,4.5h-5zM261,31.5l2.5,4.5h-5zM262.3,30.9l2.5,4.5h-5zM263.7,30.6l2.5,4.5h-5zM265,30.4l2.5,4.5h-5zM266.3,30.3l2.5,4.5h-5zM267.6,30.3l2.5,4.5h-5zM268.9,30.5l2.5,4.5h-5zM270.2,30.8l2.5,4.5h-5zM271.5,31.3l2.5,4.5h-5zM272.8,32.1l2.5,4.5h-5zM274.1,33.4l2.5,4.5h-5zM275.4,35.4l2.5,4.5h-5zM276.7,38.5l2.5,4.5h-5zM278,43.1l2.5,4.5h-5zM279.3,49.3l2.5,4.5h-5zM280.6,56.4l2.5,4.5h-5zM281.9,61.3l2.5,4.5h-5zM283.3,60.3l2.5,4.5h-5zM284.6,54.3l2.5,4.5h-5zM285.9,47.2l2.5,4.5h-5zM287.2,41.4l2.5,4.5h-5zM288.5,37.3l2.5,4.5h-5zM289.8,34.5l2.5,4.5h-5zM291.1,32.7l2.5,4.5h-5zM292.4,31.6l2.5,4.5h-5zM293.7,30.8l2.5,4.5h-5zM295,30.3l2.5,4.5h-5zM296.3,29.9l2.5,4.5h-5zM297.6,29.7l2.5,4.5h-5zM298.9,29.5l2.5,4.5h-5zM300.2,29.4l2.5,4.5h-5zM301.5,29.3l2.5,4.5h-5zM302.9,29.3l2.5,4.5h-5zM304.2,29.4l2.5,4.5h-5zM305.5,29.5l2.5,4.5h-5zM306.8,29.7l2.5,4.5h-5zM308.1,29.9l2.5,4.5h-5zM309.4,30.2l2.5,4.5h-5zM310.7,30.6l2.5,4.5h-5zM312,31.2l2.5,4.5h-5zM313.3,31.9l2.5,4.5h-5zM314.6,32.9l2.5,4.5h-5zM315.9,34.4l2.5,4.5h-5zM317.2,36.5l2.5,4.5h-5zM318.5,39.8l2.5,4.5h-5zM319.8,44.9l2.5,4.5h-5zM321.1,52.6l2.5,4.5h-5zM322.5,63.3l2.5,4.5h-5zM323.8,76.2l2.5,4.5h-5zM325.1,86.6l2.5,4.5h-5zM326.4,87.1l2.5,4.5h-5zM327.7,77.3l2.5,4.5h-5zM329,64.4l2.5,4.5h-5zM330.3,53.5l2.5,4.5h-5zM331.6,45.5l2.5,4.5h-5zM332.9,40.2l2.5,4.5h-5zM334.2,36.8l2.5,4.5h-5zM335.5,34.6l2.5,4.5h-5zM336.8,33.1l2.5,4.5h-5zM338.1,32.1l2.5,4.5h-5zM339.4,31.4l2.5,4.5h-5zM340.7,30.8l2.5,4.5h-5zM342.1,30.4l2.5,4.5h-5zM343.4,30.2l2.5,4.5h-5zM344.7,30l2.5,4.5h-5zM346,29.9l2.5,4.5h-5zM347.3,29.8l2.5,4.5h-5zM348.6,29.9l2.5,4.5h-5zM349.9,30l2.5,4.5h-5zM351.2,30.2l2.5,4.5h-5zM352.5,30.5l2.5,4.5h-5zM353.8,30.9l2.5,4.5h-5zM355.1,31.5l2.5,4.5h-5zM356.4,32.4l2.5,4.5h-5zM357.7,33.7l2.5,4.5h-5zM359,35.7l2.5,4.5h-5zM360.3,39l2.5,4.5h-5zM361.7,44.7l2.5,4.5h-5zM363,54.3l2.5,4.5h-5zM364.3,69.5l2.5,4.5h-5zM365.6,88.9l2.5,4.5h-5zM366.9,101.4l2.5,4.5h-5zM368.2,93.2l2.5,4.5h-5zM369.5,73.9l2.5,4.5h-5zM370.8,57.3l2.5,4.5h-5zM372.1,46.3l2.5,4.5h-5zM373.4,39.8l2.5,4.5h-5zM374.7,36l2.5,4.5h-5zM376,33.7l2.5,4.5h-5zM377.3,32.1l2.5,4.5h-5zM378.6,31.1l2.5,4.5h-5zM379.9,30.3l2.5,4.5h-5zM381.3,29.7l2.5,4.5h-5zM382.6,29.2l2.5,4.5h-5zM383.9,28.9l2.5,4.5h-5zM385.2,28.6l2.5,4.5h-5zM386.5,28.3l2.5,4.5h-5zM387.8,28.1l2.5,4.5h-5zM389.1,28l2.5,4.5h-5zM390.4,27.8l2.5,4.5h-5zM391.7,27.7l2.5,4.5h-5zM393,27.6l2.5,4.5h-5zM394.3,27.5l2.5,4.5h-5zM395.6,27.4l2.5,4.5h-5zM396.9,27.4l2.5,4.5h-5zM398.2,27.3l2.5,4.5h-5zM399.5,27.2l2.5,4.5h-5zM400.9,27.2l2.5,4.5h-5zM402.2,27.2l2.5,4.5h-5zM403.5,27.1l2.5,4.5h-5zM404.8,27.1l2.5,4.5h-5zM406.1,27l2.5,4.5h-5zM407.4,27l2.5,4.5h-5zM408.7,27l2.5,4.5h-5zM410,27l2.5,4.5h-5zM411.3,26.9l2.5,4.5h-5zM412.6,26.9l2.5,4.5h-5zM413.9,26.9l2.5,4.5h-5zM415.2,26.9l2.5,4.5h-5zM416.5,26.9l2.5,4.5h-5zM417.8,26.8l2.5,4.5h-5zM419.1,26.8l2.5,4.5h-5zM420.5,26.8l2.5,4.5h-5zM421.8,26.8l2.5,4.5h-5zM423.1,26.8l2.5,4.5h-5zM424.4,26.8l2.5,4.5h-5zM425.7,26.8l2.5,4.5h-5zM427,26.8l2.5,4.5h-5zM428.3,26.7l2.5,4.5h-5zM429.6,26.7l2.5,4.5h-5z" fill="#128412"/><polyline points="96.4,29.4 97.7,29.4 99,29.4 100.3,29.4 101.6,29.4 102.9,29.4 104.2,29.4 105.5,29.4 106.9,29.4 108.2,29.4 109.5,29.4 110.8,29.4 112.1,29.5 113.4,29.5 114.7,29.5 116,29.5 117.3,29.5 118.6,29.5 119.9,29.5 121.2,29.6 122.5,29.6 123.8,29.6 125.1,29.6 126.5,29.7 127.8,29.7 129.1,29.7 130.4,29.8 131.7,29.8 133,29.9 134.3,29.9 135.6,30 136.9,30 138.2,30.1 139.5,30.2 140.8,30.3 142.1,30.5 143.4,30.7 144.7,30.9 146.1,31.1 147.4,31.4 148.7,31.8 150,32.4 151.3,33.1 152.6,34.2 153.9,35.8 155.2,38.5 156.5,43.5 157.8,52.1 159.1,65.5 160.4,82.1 161.7,93.9 163,89.7 164.3,74 165.7,58.5 167,47.5 168.3,40.9 169.6,37.1 170.9,35.1 172.2,33.8 173.5,32.9 174.8,32.3 176.1,31.9 177.4,31.6 178.7,31.3 180,31.1 181.3,31 182.6,30.9 183.9,30.9 185.3,30.8 186.6,30.8 187.9,30.9 189.2,30.9 190.5,31 191.8,31.2 193.1,31.4 194.4,31.7 195.7,32.1 197,32.7 198.3,33.7 199.6,35.3 200.9,38.1 202.2,42.7 203.5,49.5 204.9,57.8 206.2,64.5 207.5,64.4 208.8,57.6 210.1,49.3 211.4,42.6 212.7,38 214,35.2 215.3,33.6 216.6,32.6 217.9,31.9 219.2,31.5 220.5,31.2 221.8,31 223.1,30.8 224.5,30.6 225.8,30.5 227.1,30.5 228.4,30.4 229.7,30.4 231,30.4 232.3,30.4 233.6,30.4 234.9,30.5 236.2,30.6 237.5,30.7 238.8,30.9 240.1,31.2 241.4,31.8 242.7,32.6 244.1,34.1 245.4,36.5 246.7,39.9 248,44 249.3,47.1 250.6,46.7 251.9,43.2 253.2,39.1 254.5,35.9 255.8,33.7 257.1,32.4 258.4,31.6 259.7,31.2 261,30.9 262.3,30.7 263.7,30.6 265,30.6 266.3,30.5 267.6,30.6 268.9,30.6 270.2,30.7 271.5,30.8 272.8,31.1 274.1,31.4 275.4,32 276.7,33.1 278,34.9 279.3,37.6 280.6,41.5 281.9,45.5 283.3,47.6 284.6,45.8 285.9,41.7 287.2,37.9 288.5,35 289.8,33.1 291.1,32.1 292.4,31.4 293.7,31 295,30.8 296.3,30.6 297.6,30.5 298.9,30.4 300.2,30.3 301.5,30.3 302.9,30.3 304.2,30.3 305.5,30.3 306.8,30.4 308.1,30.4 309.4,30.5 310.7,30.6 312,30.8 313.3,31 314.6,31.3 315.9,31.6 317.2,32.1 318.5,32.9 319.8,34.2 321.1,36.4 322.5,40.2 323.8,46.3 325.1,54.6 326.4,63.2 327.7,66.4 329,61.1 330.3,52.1 331.6,44.4 332.9,39 334.2,35.7 335.5,33.8 336.8,32.7 338.1,32.1 339.4,31.6 340.7,31.3 342.1,31.1 343.4,30.9 344.7,30.8 346,30.7 347.3,30.6 348.6,30.6 349.9,30.6 351.2,30.7 352.5,30.7 353.8,30.8 355.1,30.9 356.4,31.1 357.7,31.3 359,31.6 360.3,32.1 361.7,32.6 363,33.5 364.3,34.7 365.6,36.8 366.9,40.8 368.2,48.4 369.5,61.5 370.8,79.8 372.1,94.4 373.4,90.1 374.7,72.1 376,55.5 377.3,44.8 378.6,38.8 379.9,35.7 381.3,34 382.6,32.9 383.9,32.2 385.2,31.7 386.5,31.3 387.8,30.9 389.1,30.7 390.4,30.5 391.7,30.4 393,30.2 394.3,30.1 395.6,30 396.9,29.9 398.2,29.9 399.5,29.8 400.9,29.8 402.2,29.7 403.5,29.7 404.8,29.7 406.1,29.6 407.4,29.6 408.7,29.6 410,29.6 411.3,29.5 412.6,29.5 413.9,29.5 415.2,29.5 416.5,29.5 417.8,29.5 419.1,29.4 420.5,29.4 421.8,29.4 423.1,29.4 424.4,29.4 425.7,29.4 427,29.4 428.3,29.4 429.6,29.4" fill="none" stroke="#0a0ab8" stroke-width="1.0" stroke-linejoin="round"/><path d="M96.4,32.4l2.8,-5h-5.5zM97.7,32.4l2.8,-5h-5.5zM99,32.4l2.8,-5h-5.5zM100.3,32.4l2.8,-5h-5.5zM101.6,32.4l2.8,-5h-5.5zM102.9,32.4l2.8,-5h-5.5zM104.2,32.4l2.8,-5h-5.5zM105.5,32.4l2.8,-5h-5.5zM106.9,32.4l2.8,-5h-5.5zM108.2,32.4l2.8,-5h-5.5zM109.5,32.5l2.8,-5h-5.5zM110.8,32.5l2.8,-5h-5.5zM112.1,32.5l2.8,-5h-5.5zM113.4,32.5l2.8,-5h-5.5zM114.7,32.5l2.8,-5h-5.5zM116,32.5l2.8,-5h-5.5zM117.3,32.5l2.8,-5h-5.5zM118.6,32.5l2.8,-5h-5.5zM119.9,32.6l2.8,-5h-5.5zM121.2,32.6l2.8,-5h-5.5zM122.5,32.6l2.8,-5h-5.5zM123.8,32.6l2.8,-5h-5.5zM125.1,32.7l2.8,-5h-5.5zM126.5,32.7l2.8,-5h-5.5zM127.8,32.7l2.8,-5h-5.5zM129.1,32.7l2.8,-5h-5.5zM130.4,32.8l2.8,-5h-5.5zM131.7,32.8l2.8,-5h-5.5zM133,32.9l2.8,-5h-5.5zM134.3,32.9l2.8,-5h-5.5zM135.6,33l2.8,-5h-5.5zM136.9,33.1l2.8,-5h-5.5zM138.2,33.2l2.8,-5h-5.5zM139.5,33.3l2.8,-5h-5.5zM140.8,33.4l2.8,-5h-5.5zM142.1,33.5l2.8,-5h-5.5zM143.4,33.7l2.8,-5h-5.5zM144.7,33.9l2.8,-5h-5.5zM146.1,34.1l2.8,-5h-5.5zM147.4,34.5l2.8,-5h-5.5zM148.7,34.9l2.8,-5h-5.5zM150,35.4l2.8,-5h-5.5zM151.3,36.1l2.8,-5h-5.5zM152.6,37.2l2.8,-5h-5.5zM153.9,38.8l2.8,-5h-5.5zM155.2,41.6l2.8,-5h-5.5zM156.5,46.5l2.8,-5h-5.5zM157.8,55.2l2.8,-5h-5.5zM159.1,68.5l2.8,-5h-5.5zM160.4,85.2l2.8,-5h-5.5zM161.7,97l2.8,-5h-5.5zM163,92.8l2.8,-5h-5.5zM164.3,77.1l2.8,-5h-5.5zM165.7,61.5l2.8,-5h-5.5zM167,50.5l2.8,-5h-5.5zM168.3,43.9l2.8,-5h-5.5zM169.6,40.2l2.8,-5h-5.5zM170.9,38.1l2.8,-5h-5.5zM172.2,36.8l2.8,-5h-5.5zM173.5,36l2.8,-5h-5.5zM174.8,35.4l2.8,-5h-5.5zM176.1,34.9l2.8,-5h-5.5zM177.4,34.6l2.8,-5h-5.5zM178.7,34.4l2.8,-5h-5.5zM180,34.2l2.8,-5h-5.5zM181.3,34l2.8,-5h-5.5zM182.6,33.9l2.8,-5h-5.5zM183.9,33.9l2.8,-5h-5.5zM185.3,33.8l2.8,-5h-5.5zM186.6,33.9l2.8,-5h-5.5zM187.9,33.9l2.8,-5h-5.5zM189.2,33.9l2.8,-5h-5.5zM190.5,34l2.8,-5h-5.5zM191.8,34.2l2.8,-5h-5.5zM193.1,34.4l2.8,-5h-5.5zM194.4,34.7l2.8,-5h-5.5zM195.7,35.1l2.8,-5h-5.5zM197,35.7l2.8,-5h-5.5zM198.3,36.7l2.8,-5h-5.5zM199.6,38.4l2.8,-5h-5.5zM200.9,41.2l2.8,-5h-5.5zM202.2,45.8l2.8,-5h-5.5zM203.5,52.5l2.8,-5h-5.5zM204.9,60.9l2.8,-5h-5.5zM206.2,67.5l2.8,-5h-5.5zM207.5,67.4l2.8,-5h-5.5zM208.8,60.7l2.8,-5h-5.5zM210.1,52.3l2.8,-5h-5.5zM211.4,45.6l2.8,-5h-5.5zM212.7,41l2.8,-5h-5.5zM214,38.2l2.8,-5h-5.5zM215.3,36.6l2.8,-5h-5.5zM216.6,35.6l2.8,-5h-5.5zM217.9,35l2.8,-5h-5.5zM219.2,34.5l2.8,-5h-5.5zM220.5,34.2l2.8,-5h-5.5zM221.8,34l2.8,-5h-5.5zM223.1,33.8l2.8,-5h-5.5zM224.5,33.7l2.8,-5h-5.5zM225.8,33.6l2.8,-5h-5.5zM227.1,33.5l2.8,-5h-5.5zM228.4,33.4l2.8,-5h-5.5zM229.7,33.4l2.8,-5h-5.5zM231,33.4l2.8,-5h-5.5zM232.3,33.4l2.8,-5h-5.5zM233.6,33.5l2.8,-5h-5.5zM234.9,33.5l2.8,-5h-5.5zM236.2,33.6l2.8,-5h-5.5zM237.5,33.8l2.8,-5h-5.5zM238.8,34l2.8,-5h-5.5zM240.1,34.3l2.8,-5h-5.5zM241.4,34.8l2.8,-5h-5.5zM242.7,35.6l2.8,-5h-5.5zM244.1,37.1l2.8,-5h-5.5zM245.4,39.5l2.8,-5h-5.5zM246.7,42.9l2.8,-5h-5.5zM248,47.1l2.8,-5h-5.5zM249.3,50.1l2.8,-5h-5.5zM250.6,49.7l2.8,-5h-5.5zM251.9,46.2l2.8,-5h-5.5zM253.2,42.2l2.8,-5h-5.5zM254.5,38.9l2.8,-5h-5.5zM255.8,36.8l2.8,-5h-5.5zM257.1,35.4l2.8,-5h-5.5zM258.4,34.7l2.8,-5h-5.5zM259.7,34.2l2.8,-5h-5.5zM261,34l2.8,-5h-5.5zM262.3,33.8l2.8,-5h-5.5zM263.7,33.7l2.8,-5h-5.5zM265,33.6l2.8,-5h-5.5zM266.3,33.6l2.8,-5h-5.5zM267.6,33.6l2.8,-5h-5.5zM268.9,33.6l2.8,-5h-5.5zM270.2,33.7l2.8,-5h-5.5zM271.5,33.9l2.8,-5h-5.5zM272.8,34.1l2.8,-5h-5.5zM274.1,34.5l2.8,-5h-5.5zM275.4,35.1l2.8,-5h-5.5zM276.7,36.1l2.8,-5h-5.5zM278,37.9l2.8,-5h-5.5zM279.3,40.7l2.8,-5h-5.5zM280.6,44.5l2.8,-5h-5.5zM281.9,48.5l2.8,-5h-5.5zM283.3,50.6l2.8,-5h-5.5zM284.6,48.8l2.8,-5h-5.5zM285.9,44.8l2.8,-5h-5.5zM287.2,40.9l2.8,-5h-5.5zM288.5,38l2.8,-5h-5.5zM289.8,36.2l2.8,-5h-5.5zM291.1,35.1l2.8,-5h-5.5zM292.4,34.4l2.8,-5h-5.5zM293.7,34l2.8,-5h-5.5zM295,33.8l2.8,-5h-5.5zM296.3,33.6l2.8,-5h-5.5zM297.6,33.5l2.8,-5h-5.5zM298.9,33.4l2.8,-5h-5.5zM300.2,33.4l2.8,-5h-5.5zM301.5,33.3l2.8,-5h-5.5zM302.9,33.3l2.8,-5h-5.5zM304.2,33.3l2.8,-5h-5.5zM305.5,33.3l2.8,-5h-5.5zM306.8,33.4l2.8,-5h-5.5zM308.1,33.5l2.8,-5h-5.5zM309.4,33.5l2.8,-5h-5.5zM310.7,33.7l2.8,-5h-5.5zM312,33.8l2.8,-5h-5.5zM313.3,34l2.8,-5h-5.5zM314.6,34.3l2.8,-5h-5.5zM315.9,34.7l2.8,-5h-5.5zM317.2,35.2l2.8,-5h-5.5zM318.5,35.9l2.8,-5h-5.5zM319.8,37.2l2.8,-5h-5.5zM321.1,39.4l2.8,-5h-5.5zM322.5,43.2l2.8,-5h-5.5zM323.8,49.3l2.8,-5h-5.5zM325.1,57.6l2.8,-5h-5.5zM326.4,66.2l2.8,-5h-5.5zM327.7,69.4l2.8,-5h-5.5zM329,64.1l2.8,-5h-5.5zM330.3,55.2l2.8,-5h-5.5zM331.6,47.4l2.8,-5h-5.5zM332.9,42l2.8,-5h-5.5zM334.2,38.7l2.8,-5h-5.5zM335.5,36.9l2.8,-5h-5.5zM336.8,35.8l2.8,-5h-5.5zM338.1,35.1l2.8,-5h-5.5zM339.4,34.6l2.8,-5h-5.5zM340.7,34.3l2.8,-5h-5.5zM342.1,34.1l2.8,-5h-5.5zM343.4,33.9l2.8,-5h-5.5zM344.7,33.8l2.8,-5h-5.5zM346,33.7l2.8,-5h-5.5zM347.3,33.7l2.8,-5h-5.5zM348.6,33.6l2.8,-5h-5.5zM349.9,33.7l2.8,-5h-5.5zM351.2,33.7l2.8,-5h-5.5zM352.5,33.7l2.8,-5h-5.5zM353.8,33.8l2.8,-5h-5.5zM355.1,34l2.8,-5h-5.5zM356.4,34.1l2.8,-5h-5.5zM357.7,34.4l2.8,-5h-5.5zM359,34.7l2.8,-5h-5.5zM360.3,35.1l2.8,-5h-5.5zM361.7,35.7l2.8,-5h-5.5zM363,36.5l2.8,-5h-5.5zM364.3,37.7l2.8,-5h-5.5zM365.6,39.9l2.8,-5h-5.5zM366.9,43.9l2.8,-5h-5.5zM368.2,51.5l2.8,-5h-5.5zM369.5,64.6l2.8,-5h-5.5zM370.8,82.8l2.8,-5h-5.5zM372.1,97.5l2.8,-5h-5.5zM373.4,93.1l2.8,-5h-5.5zM374.7,75.2l2.8,-5h-5.5zM376,58.6l2.8,-5h-5.5zM377.3,47.8l2.8,-5h-5.5zM378.6,41.9l2.8,-5h-5.5zM379.9,38.8l2.8,-5h-5.5zM381.3,37l2.8,-5h-5.5zM382.6,36l2.8,-5h-5.5zM383.9,35.2l2.8,-5h-5.5zM385.2,34.7l2.8,-5h-5.5zM386.5,34.3l2.8,-5h-5.5zM387.8,34l2.8,-5h-5.5zM389.1,33.7l2.8,-5h-5.5zM390.4,33.5l2.8,-5h-5.5zM391.7,33.4l2.8,-5h-5.5zM393,33.3l2.8,-5h-5.5zM394.3,33.1l2.8,-5h-5.5zM395.6,33.1l2.8,-5h-5.5zM396.9,33l2.8,-5h-5.5zM398.2,32.9l2.8,-5h-5.5zM399.5,32.9l2.8,-5h-5.5zM400.9,32.8l2.8,-5h-5.5zM402.2,32.8l2.8,-5h-5.5zM403.5,32.7l2.8,-5h-5.5zM404.8,32.7l2.8,-5h-5.5zM406.1,32.7l2.8,-5h-5.5zM407.4,32.6l2.8,-5h-5.5zM408.7,32.6l2.8,-5h-5.5zM410,32.6l2.8,-5h-5.5zM411.3,32.6l2.8,-5h-5.5zM412.6,32.5l2.8,-5h-5.5zM413.9,32.5l2.8,-5h-5.5zM415.2,32.5l2.8,-5h-5.5zM416.5,32.5l2.8,-5h-5.5zM417.8,32.5l2.8,-5h-5.5zM419.1,32.5l2.8,-5h-5.5zM420.5,32.5l2.8,-5h-5.5zM421.8,32.4l2.8,-5h-5.5zM423.1,32.4l2.8,-5h-5.5zM424.4,32.4l2.8,-5h-5.5zM425.7,32.4l2.8,-5h-5.5zM427,32.4l2.8,-5h-5.5zM428.3,32.4l2.8,-5h-5.5zM429.6,32.4l2.8,-5h-5.5z" fill="#0a0ae6"/><polyline points="96.4,212.1 97.7,215.6 99,221.2 100.3,213.9 101.6,225.4 102.9,223.3 104.2,215.6 105.5,215.7 106.9,210.7 108.2,215.8 109.5,215.1 110.8,212.8 112.1,224.1 113.4,216.8 114.7,227.3 116,215.2 117.3,219.4 118.6,218.1 119.9,217.9 121.2,216.8 122.5,216.8 123.8,215.7 125.1,216.8 126.5,217.1 127.8,217.9 129.1,224.6 130.4,224.3 131.7,217.1 133,219 134.3,217.4 135.6,227.8 136.9,218.9 138.2,227 139.5,220.2 140.8,220.3 142.1,227.2 143.4,227.5 144.7,225.8 146.1,229.5 147.4,232 148.7,236.9 150,241.5 151.3,245.6 152.6,251.6 153.9,259.4 155.2,266.7 156.5,270.9 157.8,285 159.1,267.5 160.4,263.9 161.7,262.2 163,263 164.3,262.3 165.7,264.2 167,271.7 168.3,278.6 169.6,290.3 170.9,300.2 172.2,324 173.5,309.6 174.8,304.4 176.1,292.9 177.4,278.8 178.7,269.1 180,257 181.3,248.4 182.6,242.1 183.9,236.7 185.3,234.3 186.6,227.4 187.9,226.1 189.2,226 190.5,220.8 191.8,218.2 193.1,221.2 194.4,221.8 195.7,218.1 197,227.3 198.3,227.2 199.6,218.7 200.9,215.9 202.2,217.4 203.5,220.3 204.9,223.6 206.2,225.3 207.5,223 208.8,225.3 210.1,217.2 211.4,213.1 212.7,216.5 214,216.1 215.3,217.8 216.6,219 217.9,217 219.2,219.3 220.5,215.8 221.8,219.8 223.1,217.4 224.5,218.5 225.8,224.4 227.1,224.6 228.4,218.3 229.7,223.2 231,229.7 232.3,225.6 233.6,218.7 234.9,225.3 236.2,225.7 237.5,226.1 238.8,217.5 240.1,224.3 241.4,225.3 242.7,228.8 244.1,234.9 245.4,240.4 246.7,251.4 248,260 249.3,270.3 250.6,274.9 251.9,276.9 253.2,270.9 254.5,258.8 255.8,247.9 257.1,241.3 258.4,234.3 259.7,230.1 261,227.5 262.3,228.6 263.7,225.7 265,223.9 266.3,223.7 267.6,223.7 268.9,224.4 270.2,224.4 271.5,227.6 272.8,229.4 274.1,229.6 275.4,235.8 276.7,242.1 278,256.5 279.3,267.6 280.6,280.6 281.9,286.1 283.3,281.8 284.6,272.1 285.9,261.5 287.2,248.4 288.5,239 289.8,235.7 291.1,228 292.4,224 293.7,225.1 295,221.9 296.3,221.2 297.6,209.3 298.9,221.6 300.2,218.9 301.5,220.1 302.9,218.6 304.2,214.4 305.5,211.4 306.8,221.8 308.1,219.5 309.4,224.9 310.7,223.7 312,220.5 313.3,217 314.6,217.7 315.9,215.3 317.2,217.2 318.5,216.4 319.8,224.2 321.1,216.1 322.5,213.6 323.8,213.5 325.1,217.3 326.4,218.6 327.7,218.5 329,226.4 330.3,216.1 331.6,216.7 332.9,209.3 334.2,220 335.5,218.4 336.8,219.9 338.1,226.7 339.4,219.5 340.7,216.8 342.1,228.2 343.4,230.6 344.7,219.9 346,230.5 347.3,226.1 348.6,224.7 349.9,227.2 351.2,228.1 352.5,230.2 353.8,236.2 355.1,244.5 356.4,253.5 357.7,266.9 359,278.3 360.3,294 361.7,305.4 363,313.5 364.3,309.4 365.6,298.2 366.9,289.5 368.2,279 369.5,275.6 370.8,274.4 372.1,274.6 373.4,275.6 374.7,286 376,272.3 377.3,262.9 378.6,258.3 379.9,246.8 381.3,238 382.6,234.8 383.9,228.4 385.2,226.7 386.5,226.9 387.8,224 389.1,215.9 390.4,224.4 391.7,218.9 393,227.8 394.3,214.5 395.6,223.1 396.9,221.7 398.2,216.3 399.5,223.5 400.9,218.9 402.2,218.1 403.5,223.7 404.8,222.7 406.1,213.9 407.4,218.9 408.7,211 410,217 411.3,212.7 412.6,220 413.9,220.3 415.2,227.1 416.5,210.9 417.8,217.5 419.1,225.8 420.5,221.6 421.8,218.7 423.1,214.8 424.4,218.7 425.7,217.3 427,217.5 428.3,212.3 429.6,221.2" fill="none" stroke="#1a1a1a" stroke-width="0.9" stroke-linejoin="round"/><polyline points="96.4,215.8 97.7,215.8 99,215.8 100.3,215.9 101.6,215.9 102.9,216 104.2,216 105.5,216 106.9,216.1 108.2,216.1 109.5,216.2 110.8,216.3 112.1,216.3 113.4,216.4 114.7,216.5 116,216.6 117.3,216.6 118.6,216.7 119.9,216.8 121.2,217 122.5,217.1 123.8,217.2 125.1,217.4 126.5,217.5 127.8,217.7 129.1,217.9 130.4,218.2 131.7,218.4 133,218.7 134.3,219.1 135.6,219.5 136.9,220 138.2,220.5 139.5,221.2 140.8,222 142.1,223 143.4,224.4 144.7,226.2 146.1,228.5 147.4,231.6 148.7,235.5 150,240.5 151.3,246.4 152.6,253.2 153.9,260.3 155.2,266.6 156.5,270.6 157.8,271.4 159.1,269.2 160.4,265.6 161.7,262.3 163,260.5 164.3,261 165.7,264.3 167,270.4 168.3,279.3 169.6,289.9 170.9,300.6 172.2,308.1 173.5,309.4 174.8,303.5 176.1,292.5 177.4,279.5 178.7,267 180,256.2 181.3,247.3 182.6,240.5 183.9,235.3 185.3,231.4 186.6,228.6 187.9,226.5 189.2,224.9 190.5,223.7 191.8,222.7 193.1,221.9 194.4,221.2 195.7,220.7 197,220.2 198.3,219.8 199.6,219.5 200.9,219.2 202.2,218.9 203.5,218.7 204.9,218.5 206.2,218.4 207.5,218.2 208.8,218.1 210.1,218 211.4,217.9 212.7,217.9 214,217.8 215.3,217.8 216.6,217.8 217.9,217.7 219.2,217.8 220.5,217.8 221.8,217.8 223.1,217.9 224.5,218 225.8,218.1 227.1,218.2 228.4,218.4 229.7,218.6 231,218.9 232.3,219.2 233.6,219.6 234.9,220.1 236.2,220.7 237.5,221.5 238.8,222.7 240.1,224.2 241.4,226.6 242.7,229.9 244.1,234.7 245.4,241.3 246.7,249.9 248,260 249.3,269.8 250.6,276.2 251.9,275.8 253.2,268.9 254.5,259 255.8,249.2 257.1,241.1 258.4,234.9 259.7,230.6 261,227.6 262.3,225.7 263.7,224.6 265,223.9 266.3,223.7 267.6,223.7 268.9,224.1 270.2,224.9 271.5,226.2 272.8,228.4 274.1,231.9 275.4,237.2 276.7,244.8 278,255 279.3,267.1 280.6,278.9 281.9,285.5 283.3,282.8 284.6,272.6 285.9,260 287.2,248.6 288.5,239.6 289.8,233.1 291.1,228.6 292.4,225.6 293.7,223.5 295,222.1 296.3,221.1 297.6,220.4 298.9,219.8 300.2,219.3 301.5,218.9 302.9,218.6 304.2,218.3 305.5,218.1 306.8,217.9 308.1,217.8 309.4,217.7 310.7,217.6 312,217.5 313.3,217.4 314.6,217.4 315.9,217.4 317.2,217.3 318.5,217.3 319.8,217.3 321.1,217.4 322.5,217.4 323.8,217.4 325.1,217.5 326.4,217.6 327.7,217.6 329,217.7 330.3,217.9 331.6,218 332.9,218.2 334.2,218.3 335.5,218.6 336.8,218.8 338.1,219.1 339.4,219.5 340.7,219.9 342.1,220.3 343.4,220.9 344.7,221.6 346,222.4 347.3,223.5 348.6,224.8 349.9,226.6 351.2,229.1 352.5,232.5 353.8,237.4 355.1,244.2 356.4,253.3 357.7,265 359,279.1 360.3,294.1 361.7,306.8 363,312.6 364.3,309.3 365.6,299.5 366.9,288.3 368.2,279.2 369.5,273.8 370.8,272.4 372.1,274.1 373.4,276.8 374.7,277.3 376,273.2 377.3,265.1 378.6,255.7 379.9,246.9 381.3,239.6 382.6,234 383.9,229.9 385.2,226.9 386.5,224.8 387.8,223.2 389.1,222 390.4,221.1 391.7,220.4 393,219.8 394.3,219.3 395.6,218.9 396.9,218.6 398.2,218.2 399.5,218 400.9,217.7 402.2,217.5 403.5,217.3 404.8,217.2 406.1,217 407.4,216.9 408.7,216.8 410,216.7 411.3,216.6 412.6,216.5 413.9,216.4 415.2,216.3 416.5,216.2 417.8,216.2 419.1,216.1 420.5,216.1 421.8,216 423.1,216 424.4,215.9 425.7,215.9 427,215.8 428.3,215.8 429.6,215.8" fill="none" stroke="#a82030" stroke-width="1.0" stroke-linejoin="round"/><path d="M94.1,215.8a2.3,2.3 0 1,0 4.6,0a2.3,2.3 0 1,0 -4.6,0M95.4,215.8a2.3,2.3 0 1,0 4.6,0a2.3,2.3 0 1,0 -4.6,0M96.7,215.8a2.3,2.3 0 1,0 4.6,0a2.3,2.3 0 1,0 -4.6,0M98,215.9a2.3,2.3 0 1,0 4.6,0a2.3,2.3 0 1,0 -4.6,0M99.3,215.9a2.3,2.3 0 1,0 4.6,0a2.3,2.3 0 1,0 -4.6,0M100.6,216a2.3,2.3 0 1,0 4.6,0a2.3,2.3 0 1,0 -4.6,0M101.9,216a2.3,2.3 0 1,0 4.6,0a2.3,2.3 0 1,0 -4.6,0M103.2,216a2.3,2.3 0 1,0 4.6,0a2.3,2.3 0 1,0 -4.6,0M104.6,216.1a2.3,2.3 0 1,0 4.6,0a2.3,2.3 0 1,0 -4.6,0M105.9,216.1a2.3,2.3 0 1,0 4.6,0a2.3,2.3 0 1,0 -4.6,0M107.2,216.2a2.3,2.3 0 1,0 4.6,0a2.3,2.3 0 1,0 -4.6,0M108.5,216.3a2.3,2.3 0 1,0 4.6,0a2.3,2.3 0 1,0 -4.6,0M109.8,216.3a2.3,2.3 0 1,0 4.6,0a2.3,2.3 0 1,0 -4.6,0M111.1,216.4a2.3,2.3 0 1,0 4.6,0a2.3,2.3 0 1,0 -4.6,0M112.4,216.5a2.3,2.3 0 1,0 4.6,0a2.3,2.3 0 1,0 -4.6,0M113.7,216.6a2.3,2.3 0 1,0 4.6,0a2.3,2.3 0 1,0 -4.6,0M115,216.6a2.3,2.3 0 1,0 4.6,0a2.3,2.3 0 1,0 -4.6,0M116.3,216.7a2.3,2.3 0 1,0 4.6,0a2.3,2.3 0 1,0 -4.6,0M117.6,216.8a2.3,2.3 0 1,0 4.6,0a2.3,2.3 0 1,0 -4.6,0M118.9,217a2.3,2.3 0 1,0 4.6,0a2.3,2.3 0 1,0 -4.6,0M120.2,217.1a2.3,2.3 0 1,0 4.6,0a2.3,2.3 0 1,0 -4.6,0M121.5,217.2a2.3,2.3 0 1,0 4.6,0a2.3,2.3 0 1,0 -4.6,0M122.8,217.4a2.3,2.3 0 1,0 4.6,0a2.3,2.3 0 1,0 -4.6,0M124.2,217.5a2.3,2.3 0 1,0 4.6,0a2.3,2.3 0 1,0 -4.6,0M125.5,217.7a2.3,2.3 0 1,0 4.6,0a2.3,2.3 0 1,0 -4.6,0M126.8,217.9a2.3,2.3 0 1,0 4.6,0a2.3,2.3 0 1,0 -4.6,0M128.1,218.2a2.3,2.3 0 1,0 4.6,0a2.3,2.3 0 1,0 -4.6,0M129.4,218.4a2.3,2.3 0 1,0 4.6,0a2.3,2.3 0 1,0 -4.6,0M130.7,218.7a2.3,2.3 0 1,0 4.6,0a2.3,2.3 0 1,0 -4.6,0M132,219.1a2.3,2.3 0 1,0 4.6,0a2.3,2.3 0 1,0 -4.6,0M133.3,219.5a2.3,2.3 0 1,0 4.6,0a2.3,2.3 0 1,0 -4.6,0M134.6,220a2.3,2.3 0 1,0 4.6,0a2.3,2.3 0 1,0 -4.6,0M135.9,220.5a2.3,2.3 0 1,0 4.6,0a2.3,2.3 0 1,0 -4.6,0M137.2,221.2a2.3,2.3 0 1,0 4.6,0a2.3,2.3 0 1,0 -4.6,0M138.5,222a2.3,2.3 0 1,0 4.6,0a2.3,2.3 0 1,0 -4.6,0M139.8,223a2.3,2.3 0 1,0 4.6,0a2.3,2.3 0 1,0 -4.6,0M141.1,224.4a2.3,2.3 0 1,0 4.6,0a2.3,2.3 0 1,0 -4.6,0M142.4,226.2a2.3,2.3 0 1,0 4.6,0a2.3,2.3 0 1,0 -4.6,0M143.8,228.5a2.3,2.3 0 1,0 4.6,0a2.3,2.3 0 1,0 -4.6,0M145.1,231.6a2.3,2.3 0 1,0 4.6,0a2.3,2.3 0 1,0 -4.6,0M146.4,235.5a2.3,2.3 0 1,0 4.6,0a2.3,2.3 0 1,0 -4.6,0M147.7,240.5a2.3,2.3 0 1,0 4.6,0a2.3,2.3 0 1,0 -4.6,0M149,246.4a2.3,2.3 0 1,0 4.6,0a2.3,2.3 0 1,0 -4.6,0M150.3,253.2a2.3,2.3 0 1,0 4.6,0a2.3,2.3 0 1,0 -4.6,0M151.6,260.3a2.3,2.3 0 1,0 4.6,0a2.3,2.3 0 1,0 -4.6,0M152.9,266.6a2.3,2.3 0 1,0 4.6,0a2.3,2.3 0 1,0 -4.6,0M154.2,270.6a2.3,2.3 0 1,0 4.6,0a2.3,2.3 0 1,0 -4.6,0M155.5,271.4a2.3,2.3 0 1,0 4.6,0a2.3,2.3 0 1,0 -4.6,0M156.8,269.2a2.3,2.3 0 1,0 4.6,0a2.3,2.3 0 1,0 -4.6,0M158.1,265.6a2.3,2.3 0 1,0 4.6,0a2.3,2.3 0 1,0 -4.6,0M159.4,262.3a2.3,2.3 0 1,0 4.6,0a2.3,2.3 0 1,0 -4.6,0M160.7,260.5a2.3,2.3 0 1,0 4.6,0a2.3,2.3 0 1,0 -4.6,0M162,261a2.3,2.3 0 1,0 4.6,0a2.3,2.3 0 1,0 -4.6,0M163.4,264.3a2.3,2.3 0 1,0 4.6,0a2.3,2.3 0 1,0 -4.6,0M164.7,270.4a2.3,2.3 0 1,0 4.6,0a2.3,2.3 0 1,0 -4.6,0M166,279.3a2.3,2.3 0 1,0 4.6,0a2.3,2.3 0 1,0 -4.6,0M167.3,289.9a2.3,2.3 0 1,0 4.6,0a2.3,2.3 0 1,0 -4.6,0M168.6,300.6a2.3,2.3 0 1,0 4.6,0a2.3,2.3 0 1,0 -4.6,0M169.9,308.1a2.3,2.3 0 1,0 4.6,0a2.3,2.3 0 1,0 -4.6,0M171.2,309.4a2.3,2.3 0 1,0 4.6,0a2.3,2.3 0 1,0 -4.6,0M172.5,303.5a2.3,2.3 0 1,0 4.6,0a2.3,2.3 0 1,0 -4.6,0M173.8,292.5a2.3,2.3 0 1,0 4.6,0a2.3,2.3 0 1,0 -4.6,0M175.1,279.5a2.3,2.3 0 1,0 4.6,0a2.3,2.3 0 1,0 -4.6,0M176.4,267a2.3,2.3 0 1,0 4.6,0a2.3,2.3 0 1,0 -4.6,0M177.7,256.2a2.3,2.3 0 1,0 4.6,0a2.3,2.3 0 1,0 -4.6,0M179,247.3a2.3,2.3 0 1,0 4.6,0a2.3,2.3 0 1,0 -4.6,0M180.3,240.5a2.3,2.3 0 1,0 4.6,0a2.3,2.3 0 1,0 -4.6,0M181.6,235.3a2.3,2.3 0 1,0 4.6,0a2.3,2.3 0 1,0 -4.6,0M183,231.4a2.3,2.3 0 1,0 4.6,0a2.3,2.3 0 1,0 -4.6,0M184.3,228.6a2.3,2.3 0 1,0 4.6,0a2.3,2.3 0 1,0 -4.6,0M185.6,226.5a2.3,2.3 0 1,0 4.6,0a2.3,2.3 0 1,0 -4.6,0M186.9,224.9a2.3,2.3 0 1,0 4.6,0a2.3,2.3 0 1,0 -4.6,0M188.2,223.7a2.3,2.3 0 1,0 4.6,0a2.3,2.3 0 1,0 -4.6,0M189.5,222.7a2.3,2.3 0 1,0 4.6,0a2.3,2.3 0 1,0 -4.6,0M190.8,221.9a2.3,2.3 0 1,0 4.6,0a2.3,2.3 0 1,0 -4.6,0M192.1,221.2a2.3,2.3 0 1,0 4.6,0a2.3,2.3 0 1,0 -4.6,0M193.4,220.7a2.3,2.3 0 1,0 4.6,0a2.3,2.3 0 1,0 -4.6,0M194.7,220.2a2.3,2.3 0 1,0 4.6,0a2.3,2.3 0 1,0 -4.6,0M196,219.8a2.3,2.3 0 1,0 4.6,0a2.3,2.3 0 1,0 -4.6,0M197.3,219.5a2.3,2.3 0 1,0 4.6,0a2.3,2.3 0 1,0 -4.6,0M198.6,219.2a2.3,2.3 0 1,0 4.6,0a2.3,2.3 0 1,0 -4.6,0M199.9,218.9a2.3,2.3 0 1,0 4.6,0a2.3,2.3 0 1,0 -4.6,0M201.2,218.7a2.3,2.3 0 1,0 4.6,0a2.3,2.3 0 1,0 -4.6,0M202.6,218.5a2.3,2.3 0 1,0 4.6,0a2.3,2.3 0 1,0 -4.6,0M203.9,218.4a2.3,2.3 0 1,0 4.6,0a2.3,2.3 0 1,0 -4.6,0M205.2,218.2a2.3,2.3 0 1,0 4.6,0a2.3,2.3 0 1,0 -4.6,0M206.5,218.1a2.3,2.3 0 1,0 4.6,0a2.3,2.3 0 1,0 -4.6,0M207.8,218a2.3,2.3 0 1,0 4.6,0a2.3,2.3 0 1,0 -4.6,0M209.1,217.9a2.3,2.3 0 1,0 4.6,0a2.3,2.3 0 1,0 -4.6,0M210.4,217.9a2.3,2.3 0 1,0 4.6,0a2.3,2.3 0 1,0 -4.6,0M211.7,217.8a2.3,2.3 0 1,0 4.6,0a2.3,2.3 0 1,0 -4.6,0M213,217.8a2.3,2.3 0 1,0 4.6,0a2.3,2.3 0 1,0 -4.6,0M214.3,217.8a2.3,2.3 0 1,0 4.6,0a2.3,2.3 0 1,0 -4.6,0M215.6,217.7a2.3,2.3 0 1,0 4.6,0a2.3,2.3 0 1,0 -4.6,0M216.9,217.8a2.3,2.3 0 1,0 4.6,0a2.3,2.3 0 1,0 -4.6,0M218.2,217.8a2.3,2.3 0 1,0 4.6,0a2.3,2.3 0 1,0 -4.6,0M219.5,217.8a2.3,2.3 0 1,0 4.6,0a2.3,2.3 0 1,0 -4.6,0M220.8,217.9a2.3,2.3 0 1,0 4.6,0a2.3,2.3 0 1,0 -4.6,0M222.2,218a2.3,2.3 0 1,0 4.6,0a2.3,2.3 0 1,0 -4.6,0M223.5,218.1a2.3,2.3 0 1,0 4.6,0a2.3,2.3 0 1,0 -4.6,0M224.8,218.2a2.3,2.3 0 1,0 4.6,0a2.3,2.3 0 1,0 -4.6,0M226.1,218.4a2.3,2.3 0 1,0 4.6,0a2.3,2.3 0 1,0 -4.6,0M227.4,218.6a2.3,2.3 0 1,0 4.6,0a2.3,2.3 0 1,0 -4.6,0M228.7,218.9a2.3,2.3 0 1,0 4.6,0a2.3,2.3 0 1,0 -4.6,0M230,219.2a2.3,2.3 0 1,0 4.6,0a2.3,2.3 0 1,0 -4.6,0M231.3,219.6a2.3,2.3 0 1,0 4.6,0a2.3,2.3 0 1,0 -4.6,0M232.6,220.1a2.3,2.3 0 1,0 4.6,0a2.3,2.3 0 1,0 -4.6,0M233.9,220.7a2.3,2.3 0 1,0 4.6,0a2.3,2.3 0 1,0 -4.6,0M235.2,221.5a2.3,2.3 0 1,0 4.6,0a2.3,2.3 0 1,0 -4.6,0M236.5,222.7a2.3,2.3 0 1,0 4.6,0a2.3,2.3 0 1,0 -4.6,0M237.8,224.2a2.3,2.3 0 1,0 4.6,0a2.3,2.3 0 1,0 -4.6,0M239.1,226.6a2.3,2.3 0 1,0 4.6,0a2.3,2.3 0 1,0 -4.6,0M240.4,229.9a2.3,2.3 0 1,0 4.6,0a2.3,2.3 0 1,0 -4.6,0M241.8,234.7a2.3,2.3 0 1,0 4.6,0a2.3,2.3 0 1,0 -4.6,0M243.1,241.3a2.3,2.3 0 1,0 4.6,0a2.3,2.3 0 1,0 -4.6,0M244.4,249.9a2.3,2.3 0 1,0 4.6,0a2.3,2.3 0 1,0 -4.6,0M245.7,260a2.3,2.3 0 1,0 4.6,0a2.3,2.3 0 1,0 -4.6,0M247,269.8a2.3,2.3 0 1,0 4.6,0a2.3,2.3 0 1,0 -4.6,0M248.3,276.2a2.3,2.3 0 1,0 4.6,0a2.3,2.3 0 1,0 -4.6,0M249.6,275.8a2.3,2.3 0 1,0 4.6,0a2.3,2.3 0 1,0 -4.6,0M250.9,268.9a2.3,2.3 0 1,0 4.6,0a2.3,2.3 0 1,0 -4.6,0M252.2,259a2.3,2.3 0 1,0 4.6,0a2.3,2.3 0 1,0 -4.6,0M253.5,249.2a2.3,2.3 0 1,0 4.6,0a2.3,2.3 0 1,0 -4.6,0M254.8,241.1a2.3,2.3 0 1,0 4.6,0a2.3,2.3 0 1,0 -4.6,0M256.1,234.9a2.3,2.3 0 1,0 4.6,0a2.3,2.3 0 1,0 -4.6,0M257.4,230.6a2.3,2.3 0 1,0 4.6,0a2.3,2.3 0 1,0 -4.6,0M258.7,227.6a2.3,2.3 0 1,0 4.6,0a2.3,2.3 0 1,0 -4.6,0M260,225.7a2.3,2.3 0 1,0 4.6,0a2.3,2.3 0 1,0 -4.6,0M261.4,224.6a2.3,2.3 0 1,0 4.6,0a2.3,2.3 0 1,0 -4.6,0M262.7,223.9a2.3,2.3 0 1,0 4.6,0a2.3,2.3 0 1,0 -4.6,0M264,223.7a2.3,2.3 0 1,0 4.6,0a2.3,2.3 0 1,0 -4.6,0M265.3,223.7a2.3,2.3 0 1,0 4.6,0a2.3,2.3 0 1,0 -4.6,0M266.6,224.1a2.3,2.3 0 1,0 4.6,0a2.3,2.3 0 1,0 -4.6,0M267.9,224.9a2.3,2.3 0 1,0 4.6,0a2.3,2.3 0 1,0 -4.6,0M269.2,226.2a2.3,2.3 0 1,0 4.6,0a2.3,2.3 0 1,0 -4.6,0M270.5,228.4a2.3,2.3 0 1,0 4.6,0a2.3,2.3 0 1,0 -4.6,0M271.8,231.9a2.3,2.3 0 1,0 4.6,0a2.3,2.3 0 1,0 -4.6,0M273.1,237.2a2.3,2.3 0 1,0 4.6,0a2.3,2.3 0 1,0 -4.6,0M274.4,244.8a2.3,2.3 0 1,0 4.6,0a2.3,2.3 0 1,0 -4.6,0M275.7,255a2.3,2.3 0 1,0 4.6,0a2.3,2.3 0 1,0 -4.6,0M277,267.1a2.3,2.3 0 1,0 4.6,0a2.3,2.3 0 1,0 -4.6,0M278.3,278.9a2.3,2.3 0 1,0 4.6,0a2.3,2.3 0 1,0 -4.6,0M279.6,285.5a2.3,2.3 0 1,0 4.6,0a2.3,2.3 0 1,0 -4.6,0M281,282.8a2.3,2.3 0 1,0 4.6,0a2.3,2.3 0 1,0 -4.6,0M282.3,272.6a2.3,2.3 0 1,0 4.6,0a2.3,2.3 0 1,0 -4.6,0M283.6,260a2.3,2.3 0 1,0 4.6,0a2.3,2.3 0 1,0 -4.6,0M284.9,248.6a2.3,2.3 0 1,0 4.6,0a2.3,2.3 0 1,0 -4.6,0M286.2,239.6a2.3,2.3 0 1,0 4.6,0a2.3,2.3 0 1,0 -4.6,0M287.5,233.1a2.3,2.3 0 1,0 4.6,0a2.3,2.3 0 1,0 -4.6,0M288.8,228.6a2.3,2.3 0 1,0 4.6,0a2.3,2.3 0 1,0 -4.6,0M290.1,225.6a2.3,2.3 0 1,0 4.6,0a2.3,2.3 0 1,0 -4.6,0M291.4,223.5a2.3,2.3 0 1,0 4.6,0a2.3,2.3 0 1,0 -4.6,0M292.7,222.1a2.3,2.3 0 1,0 4.6,0a2.3,2.3 0 1,0 -4.6,0M294,221.1a2.3,2.3 0 1,0 4.6,0a2.3,2.3 0 1,0 -4.6,0M295.3,220.4a2.3,2.3 0 1,0 4.6,0a2.3,2.3 0 1,0 -4.6,0M296.6,219.8a2.3,2.3 0 1,0 4.6,0a2.3,2.3 0 1,0 -4.6,0M297.9,219.3a2.3,2.3 0 1,0 4.6,0a2.3,2.3 0 1,0 -4.6,0M299.2,218.9a2.3,2.3 0 1,0 4.6,0a2.3,2.3 0 1,0 -4.6,0M300.6,218.6a2.3,2.3 0 1,0 4.6,0a2.3,2.3 0 1,0 -4.6,0M301.9,218.3a2.3,2.3 0 1,0 4.6,0a2.3,2.3 0 1,0 -4.6,0M303.2,218.1a2.3,2.3 0 1,0 4.6,0a2.3,2.3 0 1,0 -4.6,0M304.5,217.9a2.3,2.3 0 1,0 4.6,0a2.3,2.3 0 1,0 -4.6,0M305.8,217.8a2.3,2.3 0 1,0 4.6,0a2.3,2.3 0 1,0 -4.6,0M307.1,217.7a2.3,2.3 0 1,0 4.6,0a2.3,2.3 0 1,0 -4.6,0M308.4,217.6a2.3,2.3 0 1,0 4.6,0a2.3,2.3 0 1,0 -4.6,0M309.7,217.5a2.3,2.3 0 1,0 4.6,0a2.3,2.3 0 1,0 -4.6,0M311,217.4a2.3,2.3 0 1,0 4.6,0a2.3,2.3 0 1,0 -4.6,0M312.3,217.4a2.3,2.3 0 1,0 4.6,0a2.3,2.3 0 1,0 -4.6,0M313.6,217.4a2.3,2.3 0 1,0 4.6,0a2.3,2.3 0 1,0 -4.6,0M314.9,217.3a2.3,2.3 0 1,0 4.6,0a2.3,2.3 0 1,0 -4.6,0M316.2,217.3a2.3,2.3 0 1,0 4.6,0a2.3,2.3 0 1,0 -4.6,0M317.5,217.3a2.3,2.3 0 1,0 4.6,0a2.3,2.3 0 1,0 -4.6,0M318.8,217.4a2.3,2.3 0 1,0 4.6,0a2.3,2.3 0 1,0 -4.6,0M320.2,217.4a2.3,2.3 0 1,0 4.6,0a2.3,2.3 0 1,0 -4.6,0M321.5,217.4a2.3,2.3 0 1,0 4.6,0a2.3,2.3 0 1,0 -4.6,0M322.8,217.5a2.3,2.3 0 1,0 4.6,0a2.3,2.3 0 1,0 -4.6,0M324.1,217.6a2.3,2.3 0 1,0 4.6,0a2.3,2.3 0 1,0 -4.6,0M325.4,217.6a2.3,2.3 0 1,0 4.6,0a2.3,2.3 0 1,0 -4.6,0M326.7,217.7a2.3,2.3 0 1,0 4.6,0a2.3,2.3 0 1,0 -4.6,0M328,217.9a2.3,2.3 0 1,0 4.6,0a2.3,2.3 0 1,0 -4.6,0M329.3,218a2.3,2.3 0 1,0 4.6,0a2.3,2.3 0 1,0 -4.6,0M330.6,218.2a2.3,2.3 0 1,0 4.6,0a2.3,2.3 0 1,0 -4.6,0M331.9,218.3a2.3,2.3 0 1,0 4.6,0a2.3,2.3 0 1,0 -4.6,0M333.2,218.6a2.3,2.3 0 1,0 4.6,0a2.3,2.3 0 1,0 -4.6,0M334.5,218.8a2.3,2.3 0 1,0 4.6,0a2.3,2.3 0 1,0 -4.6,0M335.8,219.1a2.3,2.3 0 1,0 4.6,0a2.3,2.3 0 1,0 -4.6,0M337.1,219.5a2.3,2.3 0 1,0 4.6,0a2.3,2.3 0 1,0 -4.6,0M338.4,219.9a2.3,2.3 0 1,0 4.6,0a2.3,2.3 0 1,0 -4.6,0M339.8,220.3a2.3,2.3 0 1,0 4.6,0a2.3,2.3 0 1,0 -4.6,0M341.1,220.9a2.3,2.3 0 1,0 4.6,0a2.3,2.3 0 1,0 -4.6,0M342.4,221.6a2.3,2.3 0 1,0 4.6,0a2.3,2.3 0 1,0 -4.6,0M343.7,222.4a2.3,2.3 0 1,0 4.6,0a2.3,2.3 0 1,0 -4.6,0M345,223.5a2.3,2.3 0 1,0 4.6,0a2.3,2.3 0 1,0 -4.6,0M346.3,224.8a2.3,2.3 0 1,0 4.6,0a2.3,2.3 0 1,0 -4.6,0M347.6,226.6a2.3,2.3 0 1,0 4.6,0a2.3,2.3 0 1,0 -4.6,0M348.9,229.1a2.3,2.3 0 1,0 4.6,0a2.3,2.3 0 1,0 -4.6,0M350.2,232.5a2.3,2.3 0 1,0 4.6,0a2.3,2.3 0 1,0 -4.6,0M351.5,237.4a2.3,2.3 0 1,0 4.6,0a2.3,2.3 0 1,0 -4.6,0M352.8,244.2a2.3,2.3 0 1,0 4.6,0a2.3,2.3 0 1,0 -4.6,0M354.1,253.3a2.3,2.3 0 1,0 4.6,0a2.3,2.3 0 1,0 -4.6,0M355.4,265a2.3,2.3 0 1,0 4.6,0a2.3,2.3 0 1,0 -4.6,0M356.7,279.1a2.3,2.3 0 1,0 4.6,0a2.3,2.3 0 1,0 -4.6,0M358,294.1a2.3,2.3 0 1,0 4.6,0a2.3,2.3 0 1,0 -4.6,0M359.4,306.8a2.3,2.3 0 1,0 4.6,0a2.3,2.3 0 1,0 -4.6,0M360.7,312.6a2.3,2.3 0 1,0 4.6,0a2.3,2.3 0 1,0 -4.6,0M362,309.3a2.3,2.3 0 1,0 4.6,0a2.3,2.3 0 1,0 -4.6,0M363.3,299.5a2.3,2.3 0 1,0 4.6,0a2.3,2.3 0 1,0 -4.6,0M364.6,288.3a2.3,2.3 0 1,0 4.6,0a2.3,2.3 0 1,0 -4.6,0M365.9,279.2a2.3,2.3 0 1,0 4.6,0a2.3,2.3 0 1,0 -4.6,0M367.2,273.8a2.3,2.3 0 1,0 4.6,0a2.3,2.3 0 1,0 -4.6,0M368.5,272.4a2.3,2.3 0 1,0 4.6,0a2.3,2.3 0 1,0 -4.6,0M369.8,274.1a2.3,2.3 0 1,0 4.6,0a2.3,2.3 0 1,0 -4.6,0M371.1,276.8a2.3,2.3 0 1,0 4.6,0a2.3,2.3 0 1,0 -4.6,0M372.4,277.3a2.3,2.3 0 1,0 4.6,0a2.3,2.3 0 1,0 -4.6,0M373.7,273.2a2.3,2.3 0 1,0 4.6,0a2.3,2.3 0 1,0 -4.6,0M375,265.1a2.3,2.3 0 1,0 4.6,0a2.3,2.3 0 1,0 -4.6,0M376.3,255.7a2.3,2.3 0 1,0 4.6,0a2.3,2.3 0 1,0 -4.6,0M377.6,246.9a2.3,2.3 0 1,0 4.6,0a2.3,2.3 0 1,0 -4.6,0M379,239.6a2.3,2.3 0 1,0 4.6,0a2.3,2.3 0 1,0 -4.6,0M380.3,234a2.3,2.3 0 1,0 4.6,0a2.3,2.3 0 1,0 -4.6,0M381.6,229.9a2.3,2.3 0 1,0 4.6,0a2.3,2.3 0 1,0 -4.6,0M382.9,226.9a2.3,2.3 0 1,0 4.6,0a2.3,2.3 0 1,0 -4.6,0M384.2,224.8a2.3,2.3 0 1,0 4.6,0a2.3,2.3 0 1,0 -4.6,0M385.5,223.2a2.3,2.3 0 1,0 4.6,0a2.3,2.3 0 1,0 -4.6,0M386.8,222a2.3,2.3 0 1,0 4.6,0a2.3,2.3 0 1,0 -4.6,0M388.1,221.1a2.3,2.3 0 1,0 4.6,0a2.3,2.3 0 1,0 -4.6,0M389.4,220.4a2.3,2.3 0 1,0 4.6,0a2.3,2.3 0 1,0 -4.6,0M390.7,219.8a2.3,2.3 0 1,0 4.6,0a2.3,2.3 0 1,0 -4.6,0M392,219.3a2.3,2.3 0 1,0 4.6,0a2.3,2.3 0 1,0 -4.6,0M393.3,218.9a2.3,2.3 0 1,0 4.6,0a2.3,2.3 0 1,0 -4.6,0M394.6,218.6a2.3,2.3 0 1,0 4.6,0a2.3,2.3 0 1,0 -4.6,0M395.9,218.2a2.3,2.3 0 1,0 4.6,0a2.3,2.3 0 1,0 -4.6,0M397.2,218a2.3,2.3 0 1,0 4.6,0a2.3,2.3 0 1,0 -4.6,0M398.6,217.7a2.3,2.3 0 1,0 4.6,0a2.3,2.3 0 1,0 -4.6,0M399.9,217.5a2.3,2.3 0 1,0 4.6,0a2.3,2.3 0 1,0 -4.6,0M401.2,217.3a2.3,2.3 0 1,0 4.6,0a2.3,2.3 0 1,0 -4.6,0M402.5,217.2a2.3,2.3 0 1,0 4.6,0a2.3,2.3 0 1,0 -4.6,0M403.8,217a2.3,2.3 0 1,0 4.6,0a2.3,2.3 0 1,0 -4.6,0M405.1,216.9a2.3,2.3 0 1,0 4.6,0a2.3,2.3 0 1,0 -4.6,0M406.4,216.8a2.3,2.3 0 1,0 4.6,0a2.3,2.3 0 1,0 -4.6,0M407.7,216.7a2.3,2.3 0 1,0 4.6,0a2.3,2.3 0 1,0 -4.6,0M409,216.6a2.3,2.3 0 1,0 4.6,0a2.3,2.3 0 1,0 -4.6,0M410.3,216.5a2.3,2.3 0 1,0 4.6,0a2.3,2.3 0 1,0 -4.6,0M411.6,216.4a2.3,2.3 0 1,0 4.6,0a2.3,2.3 0 1,0 -4.6,0M412.9,216.3a2.3,2.3 0 1,0 4.6,0a2.3,2.3 0 1,0 -4.6,0M414.2,216.2a2.3,2.3 0 1,0 4.6,0a2.3,2.3 0 1,0 -4.6,0M415.5,216.2a2.3,2.3 0 1,0 4.6,0a2.3,2.3 0 1,0 -4.6,0M416.8,216.1a2.3,2.3 0 1,0 4.6,0a2.3,2.3 0 1,0 -4.6,0M418.2,216.1a2.3,2.3 0 1,0 4.6,0a2.3,2.3 0 1,0 -4.6,0M419.5,216a2.3,2.3 0 1,0 4.6,0a2.3,2.3 0 1,0 -4.6,0M420.8,216a2.3,2.3 0 1,0 4.6,0a2.3,2.3 0 1,0 -4.6,0M422.1,215.9a2.3,2.3 0 1,0 4.6,0a2.3,2.3 0 1,0 -4.6,0M423.4,215.9a2.3,2.3 0 1,0 4.6,0a2.3,2.3 0 1,0 -4.6,0M424.7,215.8a2.3,2.3 0 1,0 4.6,0a2.3,2.3 0 1,0 -4.6,0M426,215.8a2.3,2.3 0 1,0 4.6,0a2.3,2.3 0 1,0 -4.6,0M427.3,215.8a2.3,2.3 0 1,0 4.6,0a2.3,2.3 0 1,0 -4.6,0" fill="#e0162a"/><polyline points="96.4,215.2 97.7,215.2 99,215.2 100.3,215.2 101.6,215.2 102.9,215.3 104.2,215.3 105.5,215.3 106.9,215.3 108.2,215.4 109.5,215.4 110.8,215.4 112.1,215.4 113.4,215.5 114.7,215.5 116,215.6 117.3,215.6 118.6,215.6 119.9,215.7 121.2,215.7 122.5,215.8 123.8,215.9 125.1,215.9 126.5,216 127.8,216.1 129.1,216.2 130.4,216.2 131.7,216.3 133,216.4 134.3,216.6 135.6,216.7 136.9,216.8 138.2,217 139.5,217.2 140.8,217.4 142.1,217.6 143.4,217.9 144.7,218.2 146.1,218.5 147.4,218.9 148.7,219.3 150,219.8 151.3,220.4 152.6,221.1 153.9,222 155.2,223 156.5,224.3 157.8,225.9 159.1,227.9 160.4,230.6 161.7,234.2 163,239 164.3,245.4 165.7,253.7 167,264.2 168.3,276.8 169.6,290.5 170.9,302.8 172.2,309.5 173.5,307.7 174.8,298.2 176.1,285 177.4,271.5 178.7,259.7 180,250.1 181.3,242.6 182.6,237 183.9,232.7 185.3,229.5 186.6,227.1 187.9,225.3 189.2,223.9 190.5,222.7 191.8,221.8 193.1,221 194.4,220.4 195.7,219.8 197,219.4 198.3,219 199.6,218.7 200.9,218.4 202.2,218.1 203.5,217.9 204.9,217.7 206.2,217.5 207.5,217.4 208.8,217.3 210.1,217.2 211.4,217.1 212.7,217 214,216.9 215.3,216.9 216.6,216.8 217.9,216.8 219.2,216.8 220.5,216.8 221.8,216.8 223.1,216.8 224.5,216.9 225.8,216.9 227.1,217 228.4,217.1 229.7,217.2 231,217.4 232.3,217.6 233.6,217.8 234.9,218.1 236.2,218.4 237.5,218.9 238.8,219.5 240.1,220.3 241.4,221.4 242.7,223 244.1,225.4 245.4,229.1 246.7,234.5 248,242.4 249.3,252.5 250.6,262.3 251.9,265.6 253.2,259.8 254.5,249.6 255.8,240.2 257.1,233.2 258.4,228.5 259.7,225.6 261,223.7 262.3,222.5 263.7,221.8 265,221.5 266.3,221.3 267.6,221.5 268.9,221.8 270.2,222.5 271.5,223.5 272.8,225.1 274.1,227.4 275.4,230.9 276.7,236 278,242.9 279.3,251.7 280.6,260.9 281.9,267 283.3,266.1 284.6,258.8 285.9,249.4 287.2,240.9 288.5,234.2 289.8,229.4 291.1,226 292.4,223.7 293.7,222.1 295,220.9 296.3,220 297.6,219.4 298.9,218.8 300.2,218.4 301.5,218.1 302.9,217.8 304.2,217.6 305.5,217.4 306.8,217.3 308.1,217.1 309.4,217 310.7,217 312,216.9 313.3,216.9 314.6,216.8 315.9,216.8 317.2,216.8 318.5,216.8 319.8,216.8 321.1,216.9 322.5,216.9 323.8,217 325.1,217.1 326.4,217.1 327.7,217.2 329,217.4 330.3,217.5 331.6,217.7 332.9,217.9 334.2,218.1 335.5,218.3 336.8,218.6 338.1,219 339.4,219.4 340.7,219.9 342.1,220.4 343.4,221.1 344.7,221.9 346,222.9 347.3,224.2 348.6,225.7 349.9,227.8 351.2,230.6 352.5,234.3 353.8,239.3 355.1,246 356.4,254.8 357.7,266 359,279.4 360.3,293.4 361.7,304.6 363,308.6 364.3,303.4 365.6,291.5 366.9,277.4 368.2,264.3 369.5,253.4 370.8,244.9 372.1,238.4 373.4,233.6 374.7,230 376,227.3 377.3,225.3 378.6,223.8 379.9,222.6 381.3,221.6 382.6,220.8 383.9,220.1 385.2,219.5 386.5,219 387.8,218.6 389.1,218.3 390.4,217.9 391.7,217.7 393,217.4 394.3,217.2 395.6,217 396.9,216.9 398.2,216.7 399.5,216.6 400.9,216.4 402.2,216.3 403.5,216.2 404.8,216.1 406.1,216.1 407.4,216 408.7,215.9 410,215.8 411.3,215.8 412.6,215.7 413.9,215.7 415.2,215.6 416.5,215.6 417.8,215.5 419.1,215.5 420.5,215.5 421.8,215.4 423.1,215.4 424.4,215.4 425.7,215.3 427,215.3 428.3,215.3 429.6,215.3" fill="none" stroke="#1a6a1a" stroke-width="1.0" stroke-linejoin="round"/><path d="M96.4,212.4l2.5,4.5h-5zM97.7,212.4l2.5,4.5h-5zM99,212.4l2.5,4.5h-5zM100.3,212.5l2.5,4.5h-5zM101.6,212.5l2.5,4.5h-5zM102.9,212.5l2.5,4.5h-5zM104.2,212.5l2.5,4.5h-5zM105.5,212.6l2.5,4.5h-5zM106.9,212.6l2.5,4.5h-5zM108.2,212.6l2.5,4.5h-5zM109.5,212.6l2.5,4.5h-5zM110.8,212.7l2.5,4.5h-5zM112.1,212.7l2.5,4.5h-5zM113.4,212.7l2.5,4.5h-5zM114.7,212.8l2.5,4.5h-5zM116,212.8l2.5,4.5h-5zM117.3,212.9l2.5,4.5h-5zM118.6,212.9l2.5,4.5h-5zM119.9,212.9l2.5,4.5h-5zM121.2,213l2.5,4.5h-5zM122.5,213l2.5,4.5h-5zM123.8,213.1l2.5,4.5h-5zM125.1,213.2l2.5,4.5h-5zM126.5,213.2l2.5,4.5h-5zM127.8,213.3l2.5,4.5h-5zM129.1,213.4l2.5,4.5h-5zM130.4,213.5l2.5,4.5h-5zM131.7,213.6l2.5,4.5h-5zM133,213.7l2.5,4.5h-5zM134.3,213.8l2.5,4.5h-5zM135.6,213.9l2.5,4.5h-5zM136.9,214.1l2.5,4.5h-5zM138.2,214.3l2.5,4.5h-5zM139.5,214.4l2.5,4.5h-5zM140.8,214.6l2.5,4.5h-5zM142.1,214.9l2.5,4.5h-5zM143.4,215.1l2.5,4.5h-5zM144.7,215.4l2.5,4.5h-5zM146.1,215.7l2.5,4.5h-5zM147.4,216.1l2.5,4.5h-5zM148.7,216.5l2.5,4.5h-5zM150,217.1l2.5,4.5h-5zM151.3,217.7l2.5,4.5h-5zM152.6,218.4l2.5,4.5h-5zM153.9,219.2l2.5,4.5h-5zM155.2,220.2l2.5,4.5h-5zM156.5,221.5l2.5,4.5h-5zM157.8,223.1l2.5,4.5h-5zM159.1,225.2l2.5,4.5h-5zM160.4,227.9l2.5,4.5h-5zM161.7,231.5l2.5,4.5h-5zM163,236.3l2.5,4.5h-5zM164.3,242.6l2.5,4.5h-5zM165.7,250.9l2.5,4.5h-5zM167,261.5l2.5,4.5h-5zM168.3,274.1l2.5,4.5h-5zM169.6,287.8l2.5,4.5h-5zM170.9,300l2.5,4.5h-5zM172.2,306.7l2.5,4.5h-5zM173.5,304.9l2.5,4.5h-5zM174.8,295.5l2.5,4.5h-5zM176.1,282.2l2.5,4.5h-5zM177.4,268.7l2.5,4.5h-5zM178.7,256.9l2.5,4.5h-5zM180,247.4l2.5,4.5h-5zM181.3,239.9l2.5,4.5h-5zM182.6,234.2l2.5,4.5h-5zM183.9,230l2.5,4.5h-5zM185.3,226.8l2.5,4.5h-5zM186.6,224.4l2.5,4.5h-5zM187.9,222.6l2.5,4.5h-5zM189.2,221.1l2.5,4.5h-5zM190.5,220l2.5,4.5h-5zM191.8,219l2.5,4.5h-5zM193.1,218.3l2.5,4.5h-5zM194.4,217.6l2.5,4.5h-5zM195.7,217.1l2.5,4.5h-5zM197,216.6l2.5,4.5h-5zM198.3,216.2l2.5,4.5h-5zM199.6,215.9l2.5,4.5h-5zM200.9,215.6l2.5,4.5h-5zM202.2,215.4l2.5,4.5h-5zM203.5,215.1l2.5,4.5h-5zM204.9,215l2.5,4.5h-5zM206.2,214.8l2.5,4.5h-5zM207.5,214.6l2.5,4.5h-5zM208.8,214.5l2.5,4.5h-5zM210.1,214.4l2.5,4.5h-5zM211.4,214.3l2.5,4.5h-5zM212.7,214.2l2.5,4.5h-5zM214,214.2l2.5,4.5h-5zM215.3,214.1l2.5,4.5h-5zM216.6,214.1l2.5,4.5h-5zM217.9,214.1l2.5,4.5h-5zM219.2,214.1l2.5,4.5h-5zM220.5,214.1l2.5,4.5h-5zM221.8,214.1l2.5,4.5h-5zM223.1,214.1l2.5,4.5h-5zM224.5,214.1l2.5,4.5h-5zM225.8,214.2l2.5,4.5h-5zM227.1,214.3l2.5,4.5h-5zM228.4,214.4l2.5,4.5h-5zM229.7,214.5l2.5,4.5h-5zM231,214.6l2.5,4.5h-5zM232.3,214.8l2.5,4.5h-5zM233.6,215l2.5,4.5h-5zM234.9,215.3l2.5,4.5h-5zM236.2,215.7l2.5,4.5h-5zM237.5,216.2l2.5,4.5h-5zM238.8,216.8l2.5,4.5h-5zM240.1,217.6l2.5,4.5h-5zM241.4,218.7l2.5,4.5h-5zM242.7,220.3l2.5,4.5h-5zM244.1,222.7l2.5,4.5h-5zM245.4,226.3l2.5,4.5h-5zM246.7,231.8l2.5,4.5h-5zM248,239.7l2.5,4.5h-5zM249.3,249.8l2.5,4.5h-5zM250.6,259.5l2.5,4.5h-5zM251.9,262.9l2.5,4.5h-5zM253.2,257l2.5,4.5h-5zM254.5,246.8l2.5,4.5h-5zM255.8,237.4l2.5,4.5h-5zM257.1,230.5l2.5,4.5h-5zM258.4,225.8l2.5,4.5h-5zM259.7,222.8l2.5,4.5h-5zM261,220.9l2.5,4.5h-5zM262.3,219.8l2.5,4.5h-5zM263.7,219.1l2.5,4.5h-5zM265,218.7l2.5,4.5h-5zM266.3,218.6l2.5,4.5h-5zM267.6,218.7l2.5,4.5h-5zM268.9,219.1l2.5,4.5h-5zM270.2,219.7l2.5,4.5h-5zM271.5,220.8l2.5,4.5h-5zM272.8,222.3l2.5,4.5h-5zM274.1,224.7l2.5,4.5h-5zM275.4,228.2l2.5,4.5h-5zM276.7,233.2l2.5,4.5h-5zM278,240.2l2.5,4.5h-5zM279.3,248.9l2.5,4.5h-5zM280.6,258.1l2.5,4.5h-5zM281.9,264.2l2.5,4.5h-5zM283.3,263.3l2.5,4.5h-5zM284.6,256.1l2.5,4.5h-5zM285.9,246.6l2.5,4.5h-5zM287.2,238.1l2.5,4.5h-5zM288.5,231.5l2.5,4.5h-5zM289.8,226.7l2.5,4.5h-5zM291.1,223.3l2.5,4.5h-5zM292.4,221l2.5,4.5h-5zM293.7,219.3l2.5,4.5h-5zM295,218.1l2.5,4.5h-5zM296.3,217.3l2.5,4.5h-5zM297.6,216.6l2.5,4.5h-5zM298.9,216.1l2.5,4.5h-5zM300.2,215.7l2.5,4.5h-5zM301.5,215.3l2.5,4.5h-5zM302.9,215.1l2.5,4.5h-5zM304.2,214.8l2.5,4.5h-5zM305.5,214.7l2.5,4.5h-5zM306.8,214.5l2.5,4.5h-5zM308.1,214.4l2.5,4.5h-5zM309.4,214.3l2.5,4.5h-5zM310.7,214.2l2.5,4.5h-5zM312,214.2l2.5,4.5h-5zM313.3,214.1l2.5,4.5h-5zM314.6,214.1l2.5,4.5h-5zM315.9,214.1l2.5,4.5h-5zM317.2,214.1l2.5,4.5h-5zM318.5,214.1l2.5,4.5h-5zM319.8,214.1l2.5,4.5h-5zM321.1,214.1l2.5,4.5h-5zM322.5,214.2l2.5,4.5h-5zM323.8,214.2l2.5,4.5h-5zM325.1,214.3l2.5,4.5h-5zM326.4,214.4l2.5,4.5h-5zM327.7,214.5l2.5,4.5h-5zM329,214.6l2.5,4.5h-5zM330.3,214.8l2.5,4.5h-5zM331.6,214.9l2.5,4.5h-5zM332.9,215.1l2.5,4.5h-5zM334.2,215.3l2.5,4.5h-5zM335.5,215.6l2.5,4.5h-5zM336.8,215.9l2.5,4.5h-5zM338.1,216.2l2.5,4.5h-5zM339.4,216.6l2.5,4.5h-5zM340.7,217.1l2.5,4.5h-5zM342.1,217.7l2.5,4.5h-5zM343.4,218.3l2.5,4.5h-5zM344.7,219.2l2.5,4.5h-5zM346,220.2l2.5,4.5h-5zM347.3,221.4l2.5,4.5h-5zM348.6,223l2.5,4.5h-5zM349.9,225.1l2.5,4.5h-5zM351.2,227.8l2.5,4.5h-5zM352.5,231.5l2.5,4.5h-5zM353.8,236.5l2.5,4.5h-5zM355.1,243.2l2.5,4.5h-5zM356.4,252.1l2.5,4.5h-5zM357.7,263.3l2.5,4.5h-5zM359,276.6l2.5,4.5h-5zM360.3,290.6l2.5,4.5h-5zM361.7,301.9l2.5,4.5h-5zM363,305.9l2.5,4.5h-5zM364.3,300.6l2.5,4.5h-5zM365.6,288.7l2.5,4.5h-5zM366.9,274.6l2.5,4.5h-5zM368.2,261.5l2.5,4.5h-5zM369.5,250.6l2.5,4.5h-5zM370.8,242.1l2.5,4.5h-5zM372.1,235.6l2.5,4.5h-5zM373.4,230.8l2.5,4.5h-5zM374.7,227.3l2.5,4.5h-5zM376,224.6l2.5,4.5h-5zM377.3,222.6l2.5,4.5h-5zM378.6,221l2.5,4.5h-5zM379.9,219.8l2.5,4.5h-5zM381.3,218.8l2.5,4.5h-5zM382.6,218l2.5,4.5h-5zM383.9,217.3l2.5,4.5h-5zM385.2,216.8l2.5,4.5h-5zM386.5,216.3l2.5,4.5h-5zM387.8,215.9l2.5,4.5h-5zM389.1,215.5l2.5,4.5h-5zM390.4,215.2l2.5,4.5h-5zM391.7,214.9l2.5,4.5h-5zM393,214.7l2.5,4.5h-5zM394.3,214.5l2.5,4.5h-5zM395.6,214.3l2.5,4.5h-5zM396.9,214.1l2.5,4.5h-5zM398.2,214l2.5,4.5h-5zM399.5,213.8l2.5,4.5h-5zM400.9,213.7l2.5,4.5h-5zM402.2,213.6l2.5,4.5h-5zM403.5,213.5l2.5,4.5h-5zM404.8,213.4l2.5,4.5h-5zM406.1,213.3l2.5,4.5h-5zM407.4,213.2l2.5,4.5h-5zM408.7,213.2l2.5,4.5h-5zM410,213.1l2.5,4.5h-5zM411.3,213l2.5,4.5h-5zM412.6,213l2.5,4.5h-5zM413.9,212.9l2.5,4.5h-5zM415.2,212.9l2.5,4.5h-5zM416.5,212.8l2.5,4.5h-5zM417.8,212.8l2.5,4.5h-5zM419.1,212.7l2.5,4.5h-5zM420.5,212.7l2.5,4.5h-5zM421.8,212.7l2.5,4.5h-5zM423.1,212.6l2.5,4.5h-5zM424.4,212.6l2.5,4.5h-5zM425.7,212.6l2.5,4.5h-5zM427,212.6l2.5,4.5h-5zM428.3,212.5l2.5,4.5h-5zM429.6,212.5l2.5,4.5h-5z" fill="#128412"/><polyline points="96.4,214.9 97.7,214.9 99,214.9 100.3,214.9 101.6,214.9 102.9,215 104.2,215 105.5,215 106.9,215 108.2,215 109.5,215.1 110.8,215.1 112.1,215.1 113.4,215.2 114.7,215.2 116,215.3 117.3,215.3 118.6,215.4 119.9,215.4 121.2,215.5 122.5,215.6 123.8,215.6 125.1,215.7 126.5,215.8 127.8,215.9 129.1,216.1 130.4,216.2 131.7,216.4 133,216.6 134.3,216.8 135.6,217.1 136.9,217.4 138.2,217.8 139.5,218.3 140.8,218.8 142.1,219.5 143.4,220.5 144.7,221.7 146.1,223.3 147.4,225.5 148.7,228.5 150,232.6 151.3,237.8 152.6,244.2 153.9,251.5 155.2,258 156.5,261.5 157.8,260 159.1,254.5 160.4,247.4 161.7,240.5 163,234.7 164.3,230.2 165.7,226.8 167,224.2 168.3,222.4 169.6,221 170.9,220 172.2,219.2 173.5,218.5 174.8,218 176.1,217.6 177.4,217.3 178.7,217 180,216.7 181.3,216.5 182.6,216.4 183.9,216.2 185.3,216.1 186.6,216 187.9,215.9 189.2,215.8 190.5,215.7 191.8,215.6 193.1,215.6 194.4,215.5 195.7,215.5 197,215.4 198.3,215.4 199.6,215.4 200.9,215.3 202.2,215.3 203.5,215.3 204.9,215.3 206.2,215.3 207.5,215.2 208.8,215.2 210.1,215.2 211.4,215.2 212.7,215.2 214,215.2 215.3,215.2 216.6,215.2 217.9,215.3 219.2,215.3 220.5,215.3 221.8,215.3 223.1,215.4 224.5,215.4 225.8,215.5 227.1,215.6 228.4,215.7 229.7,215.8 231,215.9 232.3,216.1 233.6,216.3 234.9,216.6 236.2,217 237.5,217.5 238.8,218.3 240.1,219.5 241.4,221.2 242.7,223.6 244.1,226.8 245.4,230.2 246.7,232.4 248,231.8 249.3,228.9 250.6,225.5 251.9,222.7 253.2,220.6 254.5,219.1 255.8,218.2 257.1,217.6 258.4,217.2 259.7,216.9 261,216.7 262.3,216.6 263.7,216.5 265,216.6 266.3,216.6 267.6,216.8 268.9,217 270.2,217.3 271.5,217.7 272.8,218.4 274.1,219.4 275.4,220.9 276.7,222.9 278,225.7 279.3,228.9 280.6,231.7 281.9,232.6 283.3,230.9 284.6,227.8 285.9,224.6 287.2,222.1 288.5,220.2 289.8,218.8 291.1,217.9 292.4,217.3 293.7,216.8 295,216.5 296.3,216.2 297.6,216 298.9,215.9 300.2,215.7 301.5,215.6 302.9,215.6 304.2,215.5 305.5,215.4 306.8,215.4 308.1,215.3 309.4,215.3 310.7,215.3 312,215.3 313.3,215.2 314.6,215.2 315.9,215.2 317.2,215.2 318.5,215.2 319.8,215.2 321.1,215.2 322.5,215.2 323.8,215.2 325.1,215.2 326.4,215.3 327.7,215.3 329,215.3 330.3,215.3 331.6,215.3 332.9,215.4 334.2,215.4 335.5,215.5 336.8,215.5 338.1,215.6 339.4,215.6 340.7,215.7 342.1,215.8 343.4,215.9 344.7,216 346,216.1 347.3,216.2 348.6,216.4 349.9,216.5 351.2,216.7 352.5,217 353.8,217.3 355.1,217.6 356.4,218.1 357.7,218.6 359,219.2 360.3,220.1 361.7,221.2 363,222.6 364.3,224.6 365.6,227.3 366.9,231 368.2,235.9 369.5,242 370.8,249.2 372.1,256.3 373.4,261 374.7,260.9 376,256.1 377.3,249 378.6,241.8 379.9,235.7 381.3,230.9 382.6,227.2 383.9,224.5 385.2,222.6 386.5,221.1 387.8,220 389.1,219.2 390.4,218.5 391.7,218 393,217.6 394.3,217.2 395.6,216.9 396.9,216.7 398.2,216.5 399.5,216.3 400.9,216.1 402.2,216 403.5,215.9 404.8,215.8 406.1,215.7 407.4,215.6 408.7,215.5 410,215.4 411.3,215.4 412.6,215.3 413.9,215.3 415.2,215.2 416.5,215.2 417.8,215.1 419.1,215.1 420.5,215.1 421.8,215.1 423.1,215 424.4,215 425.7,215 427,215 428.3,214.9 429.6,214.9" fill="none" stroke="#0a0ab8" stroke-width="1.0" stroke-linejoin="round"/><path d="M96.4,217.9l2.8,-5h-5.5zM97.7,217.9l2.8,-5h-5.5zM99,217.9l2.8,-5h-5.5zM100.3,217.9l2.8,-5h-5.5zM101.6,218l2.8,-5h-5.5zM102.9,218l2.8,-5h-5.5zM104.2,218l2.8,-5h-5.5zM105.5,218l2.8,-5h-5.5zM106.9,218l2.8,-5h-5.5zM108.2,218.1l2.8,-5h-5.5zM109.5,218.1l2.8,-5h-5.5zM110.8,218.1l2.8,-5h-5.5zM112.1,218.2l2.8,-5h-5.5zM113.4,218.2l2.8,-5h-5.5zM114.7,218.2l2.8,-5h-5.5zM116,218.3l2.8,-5h-5.5zM117.3,218.3l2.8,-5h-5.5zM118.6,218.4l2.8,-5h-5.5zM119.9,218.4l2.8,-5h-5.5zM121.2,218.5l2.8,-5h-5.5zM122.5,218.6l2.8,-5h-5.5zM123.8,218.7l2.8,-5h-5.5zM125.1,218.7l2.8,-5h-5.5zM126.5,218.8l2.8,-5h-5.5zM127.8,219l2.8,-5h-5.5zM129.1,219.1l2.8,-5h-5.5zM130.4,219.2l2.8,-5h-5.5zM131.7,219.4l2.8,-5h-5.5zM133,219.6l2.8,-5h-5.5zM134.3,219.8l2.8,-5h-5.5zM135.6,220.1l2.8,-5h-5.5zM136.9,220.4l2.8,-5h-5.5zM138.2,220.8l2.8,-5h-5.5zM139.5,221.3l2.8,-5h-5.5zM140.8,221.9l2.8,-5h-5.5zM142.1,222.6l2.8,-5h-5.5zM143.4,223.5l2.8,-5h-5.5zM144.7,224.7l2.8,-5h-5.5zM146.1,226.4l2.8,-5h-5.5zM147.4,228.6l2.8,-5h-5.5zM148.7,231.6l2.8,-5h-5.5zM150,235.6l2.8,-5h-5.5zM151.3,240.8l2.8,-5h-5.5zM152.6,247.3l2.8,-5h-5.5zM153.9,254.5l2.8,-5h-5.5zM155.2,261l2.8,-5h-5.5zM156.5,264.5l2.8,-5h-5.5zM157.8,263.1l2.8,-5h-5.5zM159.1,257.6l2.8,-5h-5.5zM160.4,250.4l2.8,-5h-5.5zM161.7,243.5l2.8,-5h-5.5zM163,237.7l2.8,-5h-5.5zM164.3,233.2l2.8,-5h-5.5zM165.7,229.8l2.8,-5h-5.5zM167,227.3l2.8,-5h-5.5zM168.3,225.4l2.8,-5h-5.5zM169.6,224l2.8,-5h-5.5zM170.9,223l2.8,-5h-5.5zM172.2,222.2l2.8,-5h-5.5zM173.5,221.6l2.8,-5h-5.5zM174.8,221.1l2.8,-5h-5.5zM176.1,220.6l2.8,-5h-5.5zM177.4,220.3l2.8,-5h-5.5zM178.7,220l2.8,-5h-5.5zM180,219.8l2.8,-5h-5.5zM181.3,219.6l2.8,-5h-5.5zM182.6,219.4l2.8,-5h-5.5zM183.9,219.2l2.8,-5h-5.5zM185.3,219.1l2.8,-5h-5.5zM186.6,219l2.8,-5h-5.5zM187.9,218.9l2.8,-5h-5.5zM189.2,218.8l2.8,-5h-5.5zM190.5,218.7l2.8,-5h-5.5zM191.8,218.7l2.8,-5h-5.5zM193.1,218.6l2.8,-5h-5.5zM194.4,218.5l2.8,-5h-5.5zM195.7,218.5l2.8,-5h-5.5zM197,218.4l2.8,-5h-5.5zM198.3,218.4l2.8,-5h-5.5zM199.6,218.4l2.8,-5h-5.5zM200.9,218.4l2.8,-5h-5.5zM202.2,218.3l2.8,-5h-5.5zM203.5,218.3l2.8,-5h-5.5zM204.9,218.3l2.8,-5h-5.5zM206.2,218.3l2.8,-5h-5.5zM207.5,218.3l2.8,-5h-5.5zM208.8,218.3l2.8,-5h-5.5zM210.1,218.3l2.8,-5h-5.5zM211.4,218.2l2.8,-5h-5.5zM212.7,218.2l2.8,-5h-5.5zM214,218.3l2.8,-5h-5.5zM215.3,218.3l2.8,-5h-5.5zM216.6,218.3l2.8,-5h-5.5zM217.9,218.3l2.8,-5h-5.5zM219.2,218.3l2.8,-5h-5.5zM220.5,218.3l2.8,-5h-5.5zM221.8,218.4l2.8,-5h-5.5zM223.1,218.4l2.8,-5h-5.5zM224.5,218.5l2.8,-5h-5.5zM225.8,218.5l2.8,-5h-5.5zM227.1,218.6l2.8,-5h-5.5zM228.4,218.7l2.8,-5h-5.5zM229.7,218.8l2.8,-5h-5.5zM231,218.9l2.8,-5h-5.5zM232.3,219.1l2.8,-5h-5.5zM233.6,219.3l2.8,-5h-5.5zM234.9,219.6l2.8,-5h-5.5zM236.2,220l2.8,-5h-5.5zM237.5,220.5l2.8,-5h-5.5zM238.8,221.3l2.8,-5h-5.5zM240.1,222.5l2.8,-5h-5.5zM241.4,224.2l2.8,-5h-5.5zM242.7,226.7l2.8,-5h-5.5zM244.1,229.8l2.8,-5h-5.5zM245.4,233.3l2.8,-5h-5.5zM246.7,235.4l2.8,-5h-5.5zM248,234.8l2.8,-5h-5.5zM249.3,231.9l2.8,-5h-5.5zM250.6,228.5l2.8,-5h-5.5zM251.9,225.7l2.8,-5h-5.5zM253.2,223.6l2.8,-5h-5.5zM254.5,222.2l2.8,-5h-5.5zM255.8,221.2l2.8,-5h-5.5zM257.1,220.6l2.8,-5h-5.5zM258.4,220.2l2.8,-5h-5.5zM259.7,219.9l2.8,-5h-5.5zM261,219.7l2.8,-5h-5.5zM262.3,219.6l2.8,-5h-5.5zM263.7,219.6l2.8,-5h-5.5zM265,219.6l2.8,-5h-5.5zM266.3,219.7l2.8,-5h-5.5zM267.6,219.8l2.8,-5h-5.5zM268.9,220l2.8,-5h-5.5zM270.2,220.3l2.8,-5h-5.5zM271.5,220.8l2.8,-5h-5.5zM272.8,221.4l2.8,-5h-5.5zM274.1,222.4l2.8,-5h-5.5zM275.4,223.9l2.8,-5h-5.5zM276.7,225.9l2.8,-5h-5.5zM278,228.7l2.8,-5h-5.5zM279.3,231.9l2.8,-5h-5.5zM280.6,234.8l2.8,-5h-5.5zM281.9,235.7l2.8,-5h-5.5zM283.3,234l2.8,-5h-5.5zM284.6,230.8l2.8,-5h-5.5zM285.9,227.7l2.8,-5h-5.5zM287.2,225.1l2.8,-5h-5.5zM288.5,223.2l2.8,-5h-5.5zM289.8,221.9l2.8,-5h-5.5zM291.1,220.9l2.8,-5h-5.5zM292.4,220.3l2.8,-5h-5.5zM293.7,219.8l2.8,-5h-5.5zM295,219.5l2.8,-5h-5.5zM296.3,219.2l2.8,-5h-5.5zM297.6,219l2.8,-5h-5.5zM298.9,218.9l2.8,-5h-5.5zM300.2,218.8l2.8,-5h-5.5zM301.5,218.7l2.8,-5h-5.5zM302.9,218.6l2.8,-5h-5.5zM304.2,218.5l2.8,-5h-5.5zM305.5,218.4l2.8,-5h-5.5zM306.8,218.4l2.8,-5h-5.5zM308.1,218.4l2.8,-5h-5.5zM309.4,218.3l2.8,-5h-5.5zM310.7,218.3l2.8,-5h-5.5zM312,218.3l2.8,-5h-5.5zM313.3,218.3l2.8,-5h-5.5zM314.6,218.2l2.8,-5h-5.5zM315.9,218.2l2.8,-5h-5.5zM317.2,218.2l2.8,-5h-5.5zM318.5,218.2l2.8,-5h-5.5zM319.8,218.2l2.8,-5h-5.5zM321.1,218.2l2.8,-5h-5.5zM322.5,218.2l2.8,-5h-5.5zM323.8,218.2l2.8,-5h-5.5zM325.1,218.3l2.8,-5h-5.5zM326.4,218.3l2.8,-5h-5.5zM327.7,218.3l2.8,-5h-5.5zM329,218.3l2.8,-5h-5.5zM330.3,218.3l2.8,-5h-5.5zM331.6,218.4l2.8,-5h-5.5zM332.9,218.4l2.8,-5h-5.5zM334.2,218.4l2.8,-5h-5.5zM335.5,218.5l2.8,-5h-5.5zM336.8,218.5l2.8,-5h-5.5zM338.1,218.6l2.8,-5h-5.5zM339.4,218.6l2.8,-5h-5.5zM340.7,218.7l2.8,-5h-5.5zM342.1,218.8l2.8,-5h-5.5zM343.4,218.9l2.8,-5h-5.5zM344.7,219l2.8,-5h-5.5zM346,219.1l2.8,-5h-5.5zM347.3,219.2l2.8,-5h-5.5zM348.6,219.4l2.8,-5h-5.5zM349.9,219.6l2.8,-5h-5.5zM351.2,219.8l2.8,-5h-5.5zM352.5,220l2.8,-5h-5.5zM353.8,220.3l2.8,-5h-5.5zM355.1,220.7l2.8,-5h-5.5zM356.4,221.1l2.8,-5h-5.5zM357.7,221.6l2.8,-5h-5.5zM359,222.3l2.8,-5h-5.5zM360.3,223.1l2.8,-5h-5.5zM361.7,224.2l2.8,-5h-5.5zM363,225.7l2.8,-5h-5.5zM364.3,227.6l2.8,-5h-5.5zM365.6,230.4l2.8,-5h-5.5zM366.9,234l2.8,-5h-5.5zM368.2,238.9l2.8,-5h-5.5zM369.5,245l2.8,-5h-5.5zM370.8,252.2l2.8,-5h-5.5zM372.1,259.3l2.8,-5h-5.5zM373.4,264l2.8,-5h-5.5zM374.7,263.9l2.8,-5h-5.5zM376,259.2l2.8,-5h-5.5zM377.3,252.1l2.8,-5h-5.5zM378.6,244.9l2.8,-5h-5.5zM379.9,238.7l2.8,-5h-5.5zM381.3,233.9l2.8,-5h-5.5zM382.6,230.3l2.8,-5h-5.5zM383.9,227.6l2.8,-5h-5.5zM385.2,225.6l2.8,-5h-5.5zM386.5,224.1l2.8,-5h-5.5zM387.8,223l2.8,-5h-5.5zM389.1,222.2l2.8,-5h-5.5zM390.4,221.6l2.8,-5h-5.5zM391.7,221l2.8,-5h-5.5zM393,220.6l2.8,-5h-5.5zM394.3,220.2l2.8,-5h-5.5zM395.6,220l2.8,-5h-5.5zM396.9,219.7l2.8,-5h-5.5zM398.2,219.5l2.8,-5h-5.5zM399.5,219.3l2.8,-5h-5.5zM400.9,219.1l2.8,-5h-5.5zM402.2,219l2.8,-5h-5.5zM403.5,218.9l2.8,-5h-5.5zM404.8,218.8l2.8,-5h-5.5zM406.1,218.7l2.8,-5h-5.5zM407.4,218.6l2.8,-5h-5.5zM408.7,218.5l2.8,-5h-5.5zM410,218.5l2.8,-5h-5.5zM411.3,218.4l2.8,-5h-5.5zM412.6,218.3l2.8,-5h-5.5zM413.9,218.3l2.8,-5h-5.5zM415.2,218.2l2.8,-5h-5.5zM416.5,218.2l2.8,-5h-5.5zM417.8,218.2l2.8,-5h-5.5zM419.1,218.1l2.8,-5h-5.5zM420.5,218.1l2.8,-5h-5.5zM421.8,218.1l2.8,-5h-5.5zM423.1,218l2.8,-5h-5.5zM424.4,218l2.8,-5h-5.5zM425.7,218l2.8,-5h-5.5zM427,218l2.8,-5h-5.5zM428.3,218l2.8,-5h-5.5zM429.6,217.9l2.8,-5h-5.5z" fill="#0a0ae6"/>
<text x="40.6" y="14.1" text-anchor="end" class="tk">1.01</text><text x="40.6" y="32.8" text-anchor="end" class="tk">1.00</text><text x="40.6" y="50.9" text-anchor="end" class="tk">0.99</text><text x="40.6" y="69.3" text-anchor="end" class="tk">0.98</text><text x="40.6" y="87.8" text-anchor="end" class="tk">0.97</text><text x="40.6" y="106.9" text-anchor="end" class="tk">0.96</text><text x="40.6" y="125.4" text-anchor="end" class="tk">0.95</text><text x="40.6" y="144" text-anchor="end" class="tk">0.94</text><text x="41.1" y="198.2" text-anchor="end" class="tk tkb">1.01</text><text x="41.1" y="217.1" text-anchor="end" class="tk tkb">1.00</text><text x="41.1" y="235.8" text-anchor="end" class="tk tkb">0.99</text><text x="41.1" y="254.2" text-anchor="end" class="tk tkb">0.98</text><text x="41.1" y="272.6" text-anchor="end" class="tk tkb">0.97</text><text x="41.1" y="291.3" text-anchor="end" class="tk tkb">0.96</text><text x="41.1" y="309.7" text-anchor="end" class="tk tkb">0.95</text><text x="41.1" y="328.5" text-anchor="end" class="tk tkb">0.94</text><text x="80.9" y="168.0" text-anchor="middle" class="tk">-15</text><text x="80.9" y="352.9" text-anchor="middle" class="tk tkb">-15</text><text x="141.3" y="168.0" text-anchor="middle" class="tk">-10</text><text x="141.3" y="352.9" text-anchor="middle" class="tk tkb">-10</text><text x="201.7" y="168.0" text-anchor="middle" class="tk">-5</text><text x="201.7" y="352.9" text-anchor="middle" class="tk tkb">-5</text><text x="262.1" y="168.0" text-anchor="middle" class="tk">0</text><text x="262.1" y="352.9" text-anchor="middle" class="tk tkb">0</text><text x="322.5" y="168.0" text-anchor="middle" class="tk">5</text><text x="322.5" y="352.9" text-anchor="middle" class="tk tkb">5</text><text x="382.9" y="168.0" text-anchor="middle" class="tk">10</text><text x="382.9" y="352.9" text-anchor="middle" class="tk tkb">10</text><text x="443.3" y="168.0" text-anchor="middle" class="tk">15</text><text x="443.3" y="352.9" text-anchor="middle" class="tk tkb">15</text><text x="168.6" y="9.4" class="ttl">Mössbauer spectrum at 5K</text><text x="184.6" y="328.3" class="ttl2">Infield Mössbauer spectrum at 5K-5T</text><text x="212.5" y="182" class="xl1">Velocity (mm/s)</text><text x="215" y="366.2" class="xl2">Velocity (mm/s)</text><text transform="translate(11.8,128.3) rotate(-90)" class="yl">Intensity (arb.units)</text><text transform="translate(10.2,313.4) rotate(-90)" class="yl2">Intensity (arb.units)</text>
</svg></body></html>
